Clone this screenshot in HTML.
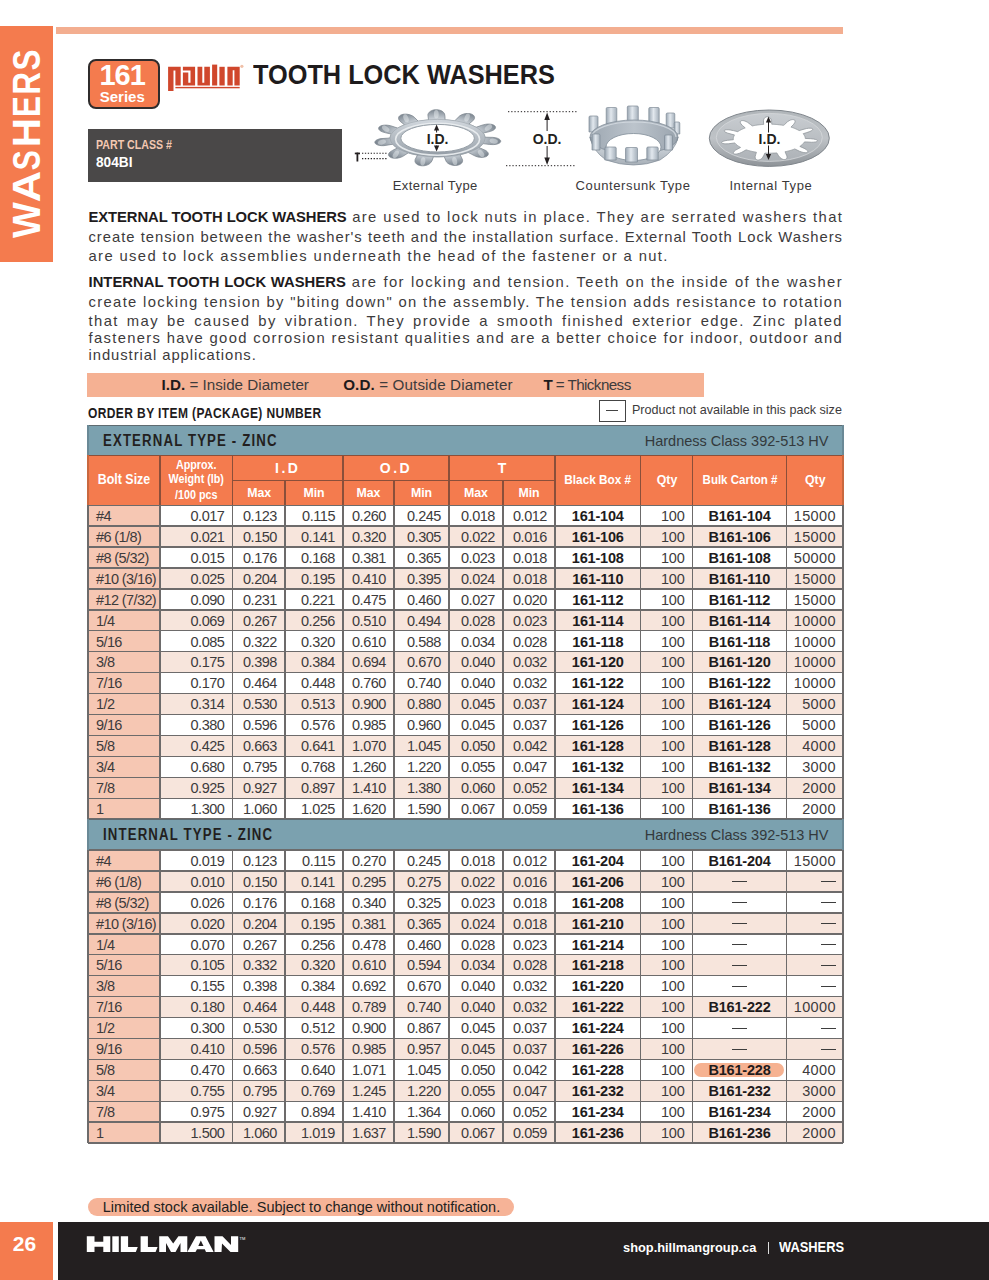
<!DOCTYPE html>
<html><head><meta charset="utf-8"><title>Tooth Lock Washers</title>
<style>
html,body{margin:0;padding:0;background:#fff;}
body{width:989px;height:1280px;position:relative;overflow:hidden;font-family:"Liberation Sans", sans-serif;}
.t{position:absolute;white-space:nowrap;}
</style></head><body>
<div style="position:absolute;left:0;top:26.1px;width:52.5px;height:235.6px;background:#f47b4e"></div>
<svg style="position:absolute;left:0;top:0" width="60" height="270" viewBox="0 0 60 270"><g font-family="Liberation Sans" font-weight="bold" font-size="37.9" fill="#fff"><text x="-17.89" y="0" transform="translate(40.2 220.15) rotate(-90) scale(1.000 1)">W</text><text x="-13.66" y="0" transform="translate(40.2 186.55) rotate(-90) scale(1.144 1)">A</text><text x="-12.45" y="0" transform="translate(40.2 160.50) rotate(-90) scale(0.793 1)">S</text><text x="-13.68" y="0" transform="translate(40.2 132.65) rotate(-90) scale(1.064 1)">H</text><text x="-13.17" y="0" transform="translate(40.2 106.20) rotate(-90) scale(0.828 1)">E</text><text x="-14.56" y="0" transform="translate(40.2 82.65) rotate(-90) scale(0.819 1)">R</text><text x="-12.45" y="0" transform="translate(40.2 60.10) rotate(-90) scale(0.828 1)">S</text></g></svg>
<div style="position:absolute;left:56.4px;top:27.3px;width:787.1px;height:6.4px;background:#f3ae90"></div>
<div style="position:absolute;left:88px;top:58.5px;width:68px;height:46px;border:2px solid #2f2c2c;border-radius:8px;background:#f47b4e"></div>
<div class="t" style="left:85.20px;top:60.85px;font-size:29px;line-height:29px;width:74px;text-align:center;font-weight:bold;color:#fff;letter-spacing:-1px;">161</div>
<div class="t" style="left:86.30px;top:88.90px;font-size:15px;line-height:15px;width:72px;text-align:center;font-weight:bold;color:#fff;">Series</div>
<svg style="position:absolute;left:0;top:0" width="989" height="200" viewBox="0 0 989 200">
<g fill="#d0472c">
<path d="M168.1,66.8 H180.7 V85.5 H175.4 V70.4 H173.5 V91.1 H168.1 Z"/>
<path d="M182.9,66.8 H195.1 V85.5 H182.9 V72.6 H188.3 V82.8 H190.5 V70.4 H182.9 Z"/>
<path d="M197.5,66.8 H202.3 V82.8 H204.3 V66.8 H209.9 V85.5 H197.5 Z"/>
<rect x="212.1" y="64.6" width="5.1" height="20.9"/>
<rect x="219.4" y="66.8" width="5.3" height="18.7"/>
<path d="M227.4,66.8 H239.7 V85.5 H234.4 V70.2 H232.7 V85.5 H227.4 Z"/>
<rect x="175.4" y="86.9" width="64.3" height="1.4"/>
</g>
<circle cx="241.9" cy="66.3" r="1.6" fill="#f0c0a8"/>
</svg>
<div class="t" style="left:253.30px;top:60.60px;font-size:28px;line-height:28px;transform:scaleX(0.904);transform-origin:left center;font-weight:bold;color:#1e1b1c;">TOOTH LOCK WASHERS</div>
<div style="position:absolute;left:88px;top:128.5px;width:254px;height:53px;background:#4a4848"></div>
<div class="t" style="left:95.90px;top:138.56px;font-size:12.8px;line-height:12.8px;transform:scaleX(0.83);transform-origin:left center;font-weight:bold;color:#f4c8b2;">PART CLASS #</div>
<div class="t" style="left:95.90px;top:154.96px;font-size:14.7px;line-height:14.7px;transform:scaleX(0.93);transform-origin:left center;font-weight:bold;color:#fff;">804BI</div>
<svg style="position:absolute;left:0;top:0" width="989" height="200" viewBox="0 0 989 200"><defs><linearGradient id="gring" x1="0" y1="0" x2="0" y2="1"><stop offset="0" stop-color="#d3d9df"/><stop offset="0.35" stop-color="#bcc3ca"/><stop offset="0.7" stop-color="#a9b1b9"/><stop offset="1" stop-color="#8f98a1"/></linearGradient><radialGradient id="gext" cx="0.5" cy="0.5" r="0.5"><stop offset="0.62" stop-color="#d5dbe1"/><stop offset="0.8" stop-color="#abb3bb"/><stop offset="1" stop-color="#7c8690"/></radialGradient></defs>
<path d="M497.24,138.20 L498.41,138.67 L499.28,139.16 L499.91,139.66 L500.35,140.16 L500.61,140.67 L500.70,141.18 L500.63,141.67 L500.39,142.16 L500.00,142.63 L499.44,143.07 L498.70,143.49 L497.77,143.87 L496.60,144.20 L495.13,144.46 L493.14,144.61 L489.74,144.46 L483.02,143.61 L482.78,143.92 L482.51,144.22 L482.24,144.53 L481.95,144.83 L481.64,145.13 L481.32,145.43 L480.99,145.72 L480.65,146.02 L480.29,146.31 L479.92,146.60 L479.54,146.89 L479.14,147.17 L478.74,147.45 L485.84,150.56 L487.23,151.65 L487.92,152.53 L488.24,153.29 L488.32,153.98 L488.21,154.60 L487.92,155.17 L487.49,155.68 L486.93,156.13 L486.24,156.51 L485.42,156.84 L484.48,157.10 L483.43,157.28 L482.25,157.38 L480.93,157.37 L479.45,157.24 L477.75,156.93 L475.64,156.29 L471.74,154.30 L468.13,152.37 L467.49,152.58 L466.84,152.78 L466.19,152.97 L465.52,153.17 L464.84,153.35 L464.16,153.54 L463.47,153.72 L462.77,153.89 L462.06,154.06 L461.35,154.22 L460.63,154.38 L459.90,154.53 L461.57,157.63 L462.60,160.18 L462.52,161.47 L462.14,162.42 L461.57,163.19 L460.87,163.82 L460.07,164.34 L459.19,164.75 L458.23,165.07 L457.22,165.30 L456.16,165.44 L455.05,165.48 L453.90,165.42 L452.72,165.26 L451.52,164.98 L450.29,164.56 L449.03,163.98 L447.74,163.13 L446.37,161.77 L444.21,156.52 L443.39,156.56 L442.57,156.60 L441.74,156.63 L440.91,156.65 L440.09,156.67 L439.26,156.69 L438.43,156.70 L437.60,156.70 L436.77,156.70 L435.94,156.69 L435.11,156.67 L434.29,156.65 L433.46,156.63 L431.89,161.00 L430.57,162.86 L429.33,163.88 L428.12,164.58 L426.91,165.08 L425.71,165.43 L424.54,165.66 L423.38,165.79 L422.26,165.81 L421.17,165.73 L420.11,165.56 L419.11,165.29 L418.17,164.93 L417.30,164.47 L416.51,163.90 L415.83,163.20 L415.29,162.34 L414.98,161.20 L415.19,159.44 L417.53,154.97 L416.78,154.83 L416.04,154.68 L415.30,154.53 L414.57,154.38 L413.85,154.22 L413.14,154.06 L412.43,153.89 L411.73,153.72 L411.04,153.54 L410.36,153.35 L409.68,153.17 L409.01,152.97 L408.36,152.78 L402.55,156.56 L400.19,157.49 L398.39,157.95 L396.84,158.18 L395.46,158.26 L394.22,158.23 L393.09,158.11 L392.09,157.90 L391.19,157.62 L390.41,157.27 L389.76,156.85 L389.23,156.38 L388.83,155.84 L388.59,155.24 L388.53,154.58 L388.69,153.83 L389.14,152.99 L390.10,151.97 L392.57,150.38 L397.32,148.00 L396.88,147.73 L396.46,147.45 L396.06,147.17 L395.66,146.89 L395.28,146.60 L394.91,146.31 L394.55,146.02 L394.21,145.72 L393.88,145.43 L393.56,145.13 L393.25,144.83 L392.96,144.53 L392.69,144.22 L383.82,145.66 L381.49,145.65 L379.82,145.47 L378.51,145.20 L377.45,144.87 L376.60,144.48 L375.93,144.07 L375.43,143.62 L375.08,143.15 L374.90,142.66 L374.87,142.15 L375.01,141.64 L375.33,141.12 L375.83,140.60 L376.55,140.09 L377.54,139.58 L378.92,139.09 L381.00,138.62 L387.84,138.20 L390.11,137.88 L390.13,137.55 L390.17,137.23 L390.22,136.91 L390.28,136.59 L390.36,136.27 L390.45,135.95 L390.56,135.63 L390.68,135.31 L390.82,134.99 L390.97,134.67 L391.14,134.35 L391.32,134.04 L385.66,132.81 L382.31,131.84 L380.77,131.10 L379.81,130.43 L379.19,129.80 L378.81,129.19 L378.64,128.61 L378.65,128.07 L378.82,127.55 L379.15,127.07 L379.63,126.62 L380.25,126.21 L381.02,125.86 L381.94,125.55 L383.03,125.32 L384.30,125.16 L385.82,125.11 L387.68,125.22 L390.30,125.65 L397.76,128.12 L398.22,127.85 L398.69,127.59 L399.17,127.33 L399.66,127.07 L400.17,126.81 L400.69,126.56 L401.21,126.31 L401.75,126.06 L402.30,125.82 L402.86,125.58 L403.43,125.35 L404.01,125.12 L404.60,124.89 L400.09,121.24 L398.90,119.65 L398.55,118.57 L398.57,117.70 L398.81,116.95 L399.22,116.31 L399.77,115.76 L400.44,115.28 L401.22,114.89 L402.09,114.57 L403.06,114.34 L404.11,114.19 L405.24,114.13 L406.45,114.17 L407.74,114.32 L409.12,114.61 L410.62,115.08 L412.31,115.84 L414.48,117.36 L418.28,121.30 L419.04,121.17 L419.81,121.05 L420.58,120.93 L421.35,120.82 L422.14,120.71 L422.92,120.61 L423.71,120.51 L424.51,120.42 L425.31,120.33 L426.11,120.25 L426.91,120.17 L427.72,120.10 L428.54,120.04 L427.88,114.75 L428.47,113.22 L429.27,112.22 L430.17,111.46 L431.13,110.88 L432.15,110.43 L433.21,110.09 L434.29,109.87 L435.39,109.74 L436.49,109.71 L437.60,109.78 L438.70,109.94 L439.79,110.21 L440.85,110.59 L441.88,111.10 L442.86,111.77 L443.77,112.65 L444.56,113.90 L444.98,116.47 L445.03,119.93 L445.85,119.98 L446.66,120.04 L447.48,120.10 L448.29,120.17 L449.09,120.25 L449.89,120.33 L450.69,120.42 L451.49,120.51 L452.28,120.61 L453.06,120.71 L453.85,120.82 L454.62,120.93 L456.96,118.62 L459.79,115.83 L461.53,114.83 L463.05,114.23 L464.45,113.84 L465.77,113.61 L467.01,113.51 L468.18,113.50 L469.28,113.60 L470.30,113.78 L471.24,114.04 L472.09,114.39 L472.84,114.82 L473.49,115.33 L474.01,115.93 L474.38,116.63 L474.56,117.45 L474.46,118.45 L473.82,119.79 L468.76,124.24 L469.38,124.45 L469.99,124.67 L470.60,124.89 L471.19,125.12 L471.77,125.35 L472.34,125.58 L472.90,125.82 L473.45,126.06 L473.99,126.31 L474.51,126.56 L475.03,126.81 L475.54,127.07 L476.03,127.33 L481.92,125.22 L485.23,124.38 L487.29,124.12 L488.93,124.08 L490.31,124.17 L491.49,124.35 L492.51,124.60 L493.38,124.92 L494.10,125.29 L494.67,125.71 L495.10,126.17 L495.39,126.67 L495.51,127.21 L495.47,127.78 L495.23,128.38 L494.77,129.02 L494.02,129.70 L492.82,130.44 L490.63,131.34 L483.26,133.10 L483.48,133.41 L483.69,133.72 L483.88,134.04 L484.06,134.35 L484.23,134.67 L484.38,134.99 L484.52,135.31 L484.64,135.63 L484.75,135.95 L484.84,136.27 L484.92,136.59 L484.98,136.91 L485.03,137.23 L492.93,137.38 L495.61,137.76 Z" fill="url(#gext)" stroke="#7f8891" stroke-width="0.8"/>
<ellipse cx="493.7" cy="141.1" rx="4.2" ry="2.4" transform="rotate(10.9 493.7 141.1)" fill="#eef1f4" opacity="0.45"/>
<ellipse cx="481.1" cy="153.5" rx="4.2" ry="2.4" transform="rotate(52.9 481.1 153.5)" fill="#eef1f4" opacity="0.45"/>
<ellipse cx="454.7" cy="161.1" rx="4.2" ry="2.4" transform="rotate(78.7 454.7 161.1)" fill="#eef1f4" opacity="0.45"/>
<ellipse cx="422.9" cy="161.4" rx="4.2" ry="2.4" transform="rotate(99.5 422.9 161.4)" fill="#eef1f4" opacity="0.45"/>
<ellipse cx="395.8" cy="154.3" rx="4.2" ry="2.4" transform="rotate(124.6 395.8 154.3)" fill="#eef1f4" opacity="0.45"/>
<ellipse cx="381.9" cy="142.2" rx="4.2" ry="2.4" transform="rotate(165.0 381.9 142.2)" fill="#eef1f4" opacity="0.45"/>
<ellipse cx="385.7" cy="128.7" rx="4.2" ry="2.4" transform="rotate(-145.5 385.7 128.7)" fill="#eef1f4" opacity="0.45"/>
<ellipse cx="406.0" cy="118.3" rx="4.2" ry="2.4" transform="rotate(-112.9 406.0 118.3)" fill="#eef1f4" opacity="0.45"/>
<ellipse cx="436.3" cy="114.2" rx="4.2" ry="2.4" transform="rotate(-90.8 436.3 114.2)" fill="#eef1f4" opacity="0.45"/>
<ellipse cx="467.1" cy="117.7" rx="4.2" ry="2.4" transform="rotate(-69.1 467.1 117.7)" fill="#eef1f4" opacity="0.45"/>
<ellipse cx="488.4" cy="127.7" rx="4.2" ry="2.4" transform="rotate(-37.8 488.4 127.7)" fill="#eef1f4" opacity="0.45"/>
<ellipse cx="437.6" cy="138.2" rx="47.5" ry="18.8" fill="url(#gring)" stroke="#9aa2aa" stroke-width="0.6"/>
<ellipse cx="437.6" cy="139.2" rx="42" ry="16" fill="none" stroke="#eceff2" stroke-width="1.6" opacity="0.9"/>
<ellipse cx="437.6" cy="138.2" rx="36.8" ry="13.8" fill="#fff" stroke="#959ea6" stroke-width="1"/>
<rect x="354.8" y="152.6" width="5.2" height="1.7" fill="#231f20"/><rect x="356.5" y="152.6" width="1.8" height="8.9" fill="#231f20"/>
<line x1="362" y1="153.2" x2="388" y2="153.2" stroke="#231f20" stroke-width="1.1" stroke-dasharray="1.3 1.6"/>
<line x1="362" y1="158.6" x2="388" y2="158.6" stroke="#231f20" stroke-width="1.1" stroke-dasharray="1.3 1.6"/>
<text x="437.6" y="143.5" text-anchor="middle" font-family="Liberation Sans" font-weight="bold" font-size="14" fill="#231f20">I.D.</text>
<line x1="436.6" y1="128.5" x2="436.6" y2="132.5" stroke="#231f20" stroke-width="1"/>
<polygon points="436.6,124.5 434.0,130.5 439.20000000000005,130.5" fill="#231f20"/>
<line x1="436.6" y1="145.5" x2="436.6" y2="147.5" stroke="#231f20" stroke-width="1"/>
<polygon points="436.6,151.5 434.0,145.5 439.20000000000005,145.5" fill="#231f20"/>
<line x1="508" y1="111.7" x2="578" y2="111.7" stroke="#231f20" stroke-width="1" stroke-dasharray="1.3 1.9"/>
<line x1="506" y1="165.7" x2="576" y2="165.7" stroke="#231f20" stroke-width="1" stroke-dasharray="1.3 1.9"/>
<line x1="547.1" y1="116" x2="547.1" y2="131" stroke="#231f20" stroke-width="1"/>
<polygon points="547.1,112.5 544.3000000000001,120 549.9,120" fill="#231f20"/>
<line x1="547.1" y1="146" x2="547.1" y2="161" stroke="#231f20" stroke-width="1"/>
<polygon points="547.1,165 544.3000000000001,157.5 549.9,157.5" fill="#231f20"/>
<text x="547.1" y="144" text-anchor="middle" font-family="Liberation Sans" font-weight="bold" font-size="14" fill="#231f20">O.D.</text>
<defs><linearGradient id="gcsk" x1="0" y1="0" x2="0" y2="1"><stop offset="0" stop-color="#a3acb5"/><stop offset="0.5" stop-color="#c3cad1"/><stop offset="1" stop-color="#a8b0b8"/></linearGradient><linearGradient id="gcin" x1="0" y1="0" x2="1" y2="0"><stop offset="0" stop-color="#9ea8b2"/><stop offset="0.5" stop-color="#bcc4cc"/><stop offset="1" stop-color="#9aa4ae"/></linearGradient><linearGradient id="gct" x1="0" y1="0" x2="1" y2="0"><stop offset="0" stop-color="#9aa6b2"/><stop offset="0.45" stop-color="#e2e8ee"/><stop offset="1" stop-color="#a4afba"/></linearGradient></defs>
<path d="M589.0,132.0 L589.0,117.2 Q589.0,116.0 590.2,116.0 L596.8,116.0 Q598.0,116.0 598.0,117.2 L598.0,132.0 Z" fill="url(#gct)" stroke="#7f8b97" stroke-width="0.7"/>
<path d="M606.2,124.0 L606.2,108.7 Q606.2,107.5 607.5,107.5 L615.5,107.5 Q616.8,107.5 616.8,108.7 L616.8,124.0 Z" fill="url(#gct)" stroke="#7f8b97" stroke-width="0.7"/>
<path d="M627.3,121.0 L627.3,107.2 Q627.3,106.0 628.5,106.0 L637.1,106.0 Q638.3,106.0 638.3,107.2 L638.3,121.0 Z" fill="url(#gct)" stroke="#7f8b97" stroke-width="0.7"/>
<path d="M648.8,123.0 L648.8,108.7 Q648.8,107.5 650.0,107.5 L658.0,107.5 Q659.2,107.5 659.2,108.7 L659.2,123.0 Z" fill="url(#gct)" stroke="#7f8b97" stroke-width="0.7"/>
<path d="M666.2,128.0 L666.2,114.2 Q666.2,113.0 667.5,113.0 L673.5,113.0 Q674.8,113.0 674.8,114.2 L674.8,128.0 Z" fill="url(#gct)" stroke="#7f8b97" stroke-width="0.7"/>
<path d="M674.2,134.0 L674.2,123.2 Q674.2,122.0 675.5,122.0 L678.5,122.0 Q679.8,122.0 679.8,123.2 L679.8,134.0 Z" fill="url(#gct)" stroke="#7f8b97" stroke-width="0.7"/>
<ellipse cx="634" cy="137" rx="44" ry="17" fill="url(#gcin)" stroke="#7f8b97" stroke-width="0.7"/>
<path d="M592,137 A42,15 0 0,1 676,137" fill="none" stroke="#d7dde3" stroke-width="1.2" opacity="0.8"/>
<path d="M590,137 A44,17 0 0,0 678,137 Q676,150 660,160 Q634,170 606,160 Q592,150 590,137 Z" fill="url(#gcsk)" stroke="#7f8b97" stroke-width="0.7"/>
<ellipse cx="633.5" cy="147" rx="27.5" ry="13.5" fill="#fff" stroke="#7f8b97" stroke-width="0.8"/>
<path d="M592.0,150.0 L592.0,135.2 Q592.0,134.0 593.2,134.0 L598.8,134.0 Q600.0,134.0 600.0,135.2 L600.0,150.0 Z" fill="url(#gct)" stroke="#7f8b97" stroke-width="0.7"/>
<path d="M604.8,160.0 L604.8,148.2 Q604.8,147.0 606.0,147.0 L615.0,147.0 Q616.2,147.0 616.2,148.2 L616.2,160.0 Z" fill="url(#gct)" stroke="#7f8b97" stroke-width="0.7"/>
<path d="M625.5,162.0 L625.5,148.7 Q625.5,147.5 626.7,147.5 L636.3,147.5 Q637.5,147.5 637.5,148.7 L637.5,162.0 Z" fill="url(#gct)" stroke="#7f8b97" stroke-width="0.7"/>
<path d="M646.8,160.0 L646.8,148.2 Q646.8,147.0 648.0,147.0 L657.0,147.0 Q658.2,147.0 658.2,148.2 L658.2,160.0 Z" fill="url(#gct)" stroke="#7f8b97" stroke-width="0.7"/>
<path d="M664.5,150.0 L664.5,136.2 Q664.5,135.0 665.7,135.0 L671.3,135.0 Q672.5,135.0 672.5,136.2 L672.5,150.0 Z" fill="url(#gct)" stroke="#7f8b97" stroke-width="0.7"/>
<defs><linearGradient id="giw" x1="0" y1="0" x2="0" y2="1"><stop offset="0" stop-color="#b0b5b9"/><stop offset="0.5" stop-color="#bfc3c7"/><stop offset="1" stop-color="#8e9398"/></linearGradient><linearGradient id="giw2" x1="0" y1="0" x2="0" y2="1"><stop offset="0" stop-color="#c9cdd1"/><stop offset="1" stop-color="#adb2b7"/></linearGradient></defs>
<ellipse cx="769.3" cy="138.2" rx="60" ry="28.2" fill="url(#giw)" stroke="#80868c" stroke-width="1"/>
<ellipse cx="769.3" cy="137.39999999999998" rx="53" ry="24" fill="url(#giw2)" stroke="#d5d8db" stroke-width="0.8"/>
<path d="M810.77,138.70 L813.65,139.04 L815.37,139.42 L816.50,139.81 L817.20,140.21 L817.53,140.61 L817.52,141.00 L817.18,141.36 L816.49,141.69 L815.42,141.97 L813.86,142.18 L811.53,142.27 L806.28,141.94 L804.38,141.96 L804.23,142.21 L804.07,142.45 L803.91,142.70 L803.73,142.94 L803.54,143.18 L803.34,143.42 L803.13,143.66 L802.91,143.90 L802.68,144.13 L802.44,144.37 L802.19,144.60 L801.93,144.83 L801.66,145.06 L801.38,145.28 L801.09,145.51 L800.79,145.73 L800.48,145.95 L800.16,146.17 L799.83,146.38 L804.91,148.71 L806.53,149.80 L807.36,150.62 L807.73,151.28 L807.76,151.82 L807.49,152.23 L806.95,152.53 L806.16,152.69 L805.10,152.71 L803.75,152.56 L802.02,152.16 L799.63,151.34 L794.76,148.95 L794.31,149.13 L793.85,149.30 L793.39,149.48 L792.92,149.64 L792.44,149.81 L791.96,149.97 L791.46,150.13 L790.97,150.28 L790.46,150.43 L789.95,150.58 L789.43,150.72 L788.91,150.86 L788.38,151.00 L787.84,151.13 L787.30,151.26 L786.75,151.38 L786.20,151.50 L785.64,151.62 L785.08,151.73 L785.72,153.39 L786.90,155.93 L787.04,157.23 L786.83,158.15 L786.40,158.80 L785.81,159.25 L785.09,159.50 L784.25,159.56 L783.32,159.43 L782.31,159.09 L781.20,158.49 L779.98,157.52 L778.55,155.81 L776.78,152.88 L776.17,152.93 L775.55,152.98 L774.93,153.02 L774.31,153.06 L773.69,153.09 L773.06,153.12 L772.44,153.14 L771.81,153.16 L771.18,153.18 L770.56,153.19 L769.93,153.20 L769.30,153.20 L768.67,153.20 L768.04,153.19 L767.42,153.18 L766.79,153.16 L766.16,153.14 L765.54,153.12 L764.91,153.09 L763.64,155.82 L762.43,157.73 L761.34,158.79 L760.32,159.46 L759.34,159.87 L758.42,160.06 L757.57,160.05 L756.80,159.84 L756.13,159.44 L755.59,158.82 L755.22,157.94 L755.13,156.67 L755.75,154.36 L756.40,152.24 L755.81,152.14 L755.23,152.05 L754.66,151.95 L754.09,151.84 L753.52,151.73 L752.96,151.62 L752.40,151.50 L751.85,151.38 L751.30,151.26 L750.76,151.13 L750.22,151.00 L749.69,150.86 L749.17,150.72 L748.65,150.58 L748.14,150.43 L747.63,150.28 L747.14,150.13 L746.64,149.97 L746.16,149.81 L741.86,152.28 L739.49,153.28 L737.78,153.79 L736.41,154.03 L735.31,154.07 L734.46,153.96 L733.84,153.70 L733.48,153.30 L733.39,152.77 L733.62,152.10 L734.27,151.25 L735.61,150.12 L740.55,147.43 L740.18,147.22 L739.81,147.02 L739.45,146.81 L739.11,146.60 L738.77,146.38 L738.44,146.17 L738.12,145.95 L737.81,145.73 L737.51,145.51 L737.22,145.28 L736.94,145.06 L736.67,144.83 L736.41,144.60 L736.16,144.37 L735.92,144.13 L735.69,143.90 L735.47,143.66 L735.26,143.42 L735.06,143.18 L734.87,142.94 L728.22,143.81 L725.76,143.86 L724.11,143.74 L722.94,143.52 L722.15,143.24 L721.71,142.90 L721.60,142.51 L721.82,142.10 L722.41,141.67 L723.42,141.22 L724.99,140.75 L727.62,140.27 L733.39,139.71 L733.35,139.46 L733.32,139.21 L733.31,138.95 L733.30,138.70 L733.31,138.45 L733.32,138.19 L733.35,137.94 L733.39,137.69 L733.44,137.44 L733.50,137.18 L733.57,136.93 L733.65,136.68 L733.74,136.43 L733.85,136.18 L733.96,135.93 L734.09,135.69 L734.22,135.44 L734.37,135.19 L734.53,134.95 L731.26,134.11 L727.70,133.15 L725.99,132.45 L724.96,131.85 L724.40,131.32 L724.20,130.86 L724.33,130.46 L724.78,130.13 L725.53,129.90 L726.62,129.76 L728.10,129.76 L730.14,129.95 L733.39,130.58 L737.81,131.67 L738.12,131.45 L738.44,131.23 L738.77,131.02 L739.11,130.80 L739.45,130.59 L739.81,130.38 L740.18,130.18 L740.55,129.97 L740.93,129.77 L741.32,129.57 L741.72,129.38 L742.13,129.19 L742.55,129.00 L742.97,128.81 L743.40,128.63 L743.84,128.45 L744.29,128.27 L744.75,128.10 L745.21,127.92 L742.35,125.46 L740.92,123.85 L740.37,122.78 L740.25,121.99 L740.44,121.39 L740.86,120.95 L741.48,120.68 L742.30,120.57 L743.31,120.64 L744.50,120.91 L745.92,121.44 L747.66,122.36 L750.45,124.50 L752.40,125.90 L752.96,125.78 L753.52,125.67 L754.09,125.56 L754.66,125.45 L755.23,125.35 L755.81,125.26 L756.40,125.16 L756.99,125.07 L757.58,124.99 L758.18,124.91 L758.77,124.83 L759.38,124.76 L759.98,124.69 L760.59,124.63 L761.20,124.57 L761.82,124.52 L762.43,124.47 L763.05,124.42 L763.67,124.38 L763.43,120.69 L763.85,119.11 L764.46,118.11 L765.17,117.42 L765.94,116.98 L766.76,116.76 L767.61,116.73 L768.46,116.91 L769.30,117.29 L770.11,117.92 L770.87,118.87 L771.52,120.34 L771.81,124.24 L772.44,124.26 L773.06,124.28 L773.69,124.31 L774.31,124.34 L774.93,124.38 L775.55,124.42 L776.17,124.47 L776.78,124.52 L777.40,124.57 L778.01,124.63 L778.62,124.69 L779.22,124.76 L779.83,124.83 L780.42,124.91 L781.02,124.99 L781.61,125.07 L782.20,125.16 L782.79,125.26 L783.37,125.35 L784.64,124.51 L787.48,121.75 L789.13,120.69 L790.49,120.07 L791.67,119.72 L792.69,119.60 L793.54,119.65 L794.24,119.89 L794.75,120.29 L795.04,120.87 L795.08,121.65 L794.74,122.71 L793.69,124.30 L790.97,127.12 L791.46,127.27 L791.96,127.43 L792.44,127.59 L792.92,127.76 L793.39,127.92 L793.85,128.10 L794.31,128.27 L794.76,128.45 L795.20,128.63 L795.63,128.81 L796.05,129.00 L796.47,129.19 L796.88,129.38 L797.28,129.57 L797.67,129.77 L798.05,129.97 L798.42,130.18 L798.79,130.38 L799.15,130.59 L802.98,129.44 L806.38,128.56 L808.46,128.24 L810.00,128.15 L811.15,128.22 L811.98,128.42 L812.51,128.71 L812.75,129.10 L812.67,129.57 L812.23,130.12 L811.36,130.76 L809.85,131.53 L806.82,132.60 L803.13,133.74 L803.34,133.98 L803.54,134.22 L803.73,134.46 L803.91,134.70 L804.07,134.95 L804.23,135.19 L804.38,135.44 L804.51,135.69 L804.64,135.93 L804.75,136.18 L804.86,136.43 L804.95,136.68 L805.03,136.93 L805.10,137.18 L805.16,137.44 L805.21,137.69 L805.25,137.94 L805.28,138.19 L805.29,138.45 Z" fill="#fff" stroke="#8f959b" stroke-width="0.8"/>
<text x="769.5" y="143.5" text-anchor="middle" font-family="Liberation Sans" font-weight="bold" font-size="14" fill="#231f20">I.D.</text>
<line x1="768.5" y1="120.5" x2="768.5" y2="132.5" stroke="#231f20" stroke-width="1"/>
<polygon points="768.5,116.5 765.9,122.5 771.1,122.5" fill="#231f20"/>
<line x1="768.5" y1="145.5" x2="768.5" y2="156" stroke="#231f20" stroke-width="1"/>
<polygon points="768.5,160 765.9,154 771.1,154" fill="#231f20"/></svg>
<div class="t" style="left:392.70px;top:179.00px;font-size:13px;line-height:13px;color:#3a3839;letter-spacing:0.45px;">External Type</div>
<div class="t" style="left:575.60px;top:179.00px;font-size:13px;line-height:13px;color:#3a3839;letter-spacing:0.6px;">Countersunk Type</div>
<div class="t" style="left:729.40px;top:179.00px;font-size:13px;line-height:13px;color:#3a3839;letter-spacing:0.62px;">Internal Type</div>
<div class="t" style="left:88.50px;top:210.27px;font-size:14.8px;line-height:14.8px;width:754.5px;text-align:left;color:#3d3b3c;text-align:justify;text-align-last:justify;white-space:nowrap;"><b style="color:#1e1b1c;letter-spacing:-0.071px">EXTERNAL TOOTH LOCK WASHERS</b><span style="letter-spacing:1.400px"> are used to lock nuts in place. They are serrated washers that</span></div>
<div class="t" style="left:88.50px;top:229.67px;font-size:14.8px;line-height:14.8px;width:754.5px;text-align:left;color:#3d3b3c;text-align:justify;text-align-last:justify;white-space:nowrap;"><span style="letter-spacing:0.976px">create tension between the washer&#39;s teeth and the installation surface. External Tooth Lock Washers</span></div>
<div class="t" style="left:88.50px;top:249.17px;font-size:14.8px;line-height:14.8px;color:#3d3b3c;white-space:nowrap;"><span style="letter-spacing:1.369px">are used to lock assemblies underneath the head of the fastener or a nut.</span></div>
<div class="t" style="left:88.50px;top:275.37px;font-size:14.8px;line-height:14.8px;width:754.5px;text-align:left;color:#3d3b3c;text-align:justify;text-align-last:justify;white-space:nowrap;"><b style="color:#1e1b1c;letter-spacing:0.023px">INTERNAL TOOTH LOCK WASHERS</b><span style="letter-spacing:1.400px"> are for locking and tension. Teeth on the inside of the washer</span></div>
<div class="t" style="left:88.50px;top:294.57px;font-size:14.8px;line-height:14.8px;width:754.5px;text-align:left;color:#3d3b3c;text-align:justify;text-align-last:justify;white-space:nowrap;"><span style="letter-spacing:1.337px">create locking tension by &quot;biting down&quot; on the assembly. The tension adds resistance to rotation</span></div>
<div class="t" style="left:88.50px;top:314.07px;font-size:14.8px;line-height:14.8px;width:754.5px;text-align:left;color:#3d3b3c;text-align:justify;text-align-last:justify;white-space:nowrap;"><span style="letter-spacing:1.400px">that may be caused by vibration. They provide a smooth finished exterior edge. Zinc plated</span></div>
<div class="t" style="left:88.50px;top:330.97px;font-size:14.8px;line-height:14.8px;width:754.5px;text-align:left;color:#3d3b3c;text-align:justify;text-align-last:justify;white-space:nowrap;"><span style="letter-spacing:1.324px">fasteners have good corrosion resistant qualities and are a better choice for indoor, outdoor and</span></div>
<div class="t" style="left:88.50px;top:348.47px;font-size:14.8px;line-height:14.8px;color:#3d3b3c;white-space:nowrap;"><span style="letter-spacing:0.945px">industrial applications.</span></div>
<div style="position:absolute;left:87.3px;top:373px;width:617px;height:23.7px;background:#f5b193"></div>
<div class="t" style="left:161.60px;top:377.43px;font-size:15.2px;line-height:15.2px;color:#3d3b3c;white-space:nowrap;"><b style="color:#1e1b1c">I.D.</b> = Inside Diameter</div>
<div class="t" style="left:343.20px;top:377.43px;font-size:15.2px;line-height:15.2px;color:#3d3b3c;white-space:nowrap;letter-spacing:0.12px;"><b style="color:#1e1b1c">O.D.</b> = Outside Diameter</div>
<div class="t" style="left:543.50px;top:377.43px;font-size:15.2px;line-height:15.2px;color:#3d3b3c;white-space:nowrap;letter-spacing:-0.58px;"><b style="color:#1e1b1c">T</b> = Thickness</div>
<div class="t" style="left:88.00px;top:405.20px;font-size:15px;line-height:15px;transform:scaleX(0.8);transform-origin:left center;font-weight:bold;color:#1e1b1c;letter-spacing:0.5px;">ORDER BY ITEM (PACKAGE) NUMBER</div>
<div style="position:absolute;left:599px;top:399.6px;width:24.5px;height:20.3px;border:1px solid #444"></div>
<div style="position:absolute;left:606px;top:410px;width:12px;height:1.2px;background:#444"></div>
<div class="t" style="left:631.90px;top:404.43px;font-size:12.6px;line-height:12.6px;color:#3d3b3c;">Product not available in this pack size</div>
<div style="position:absolute;left:88.00px;top:425.30px;width:755.00px;height:30.00px;background:#7ba1af"></div>
<div class="t" style="left:102.6px;top:432.07px;font-size:17.4px;line-height:17.4px;font-weight:bold;color:#231f20;letter-spacing:1.5px;transform:scaleX(0.76);transform-origin:left center">EXTERNAL TYPE - ZINC</div>
<div class="t" style="left:600px;width:228.5px;text-align:right;top:433.93px;font-size:14.5px;line-height:14.5px;color:#33393c;letter-spacing:0.0px">Hardness Class 392-513 HV</div>
<div style="position:absolute;left:160.00px;top:505.20px;width:683.00px;height:20.93px;background:#ffffff"></div>
<div style="position:absolute;left:88.00px;top:505.20px;width:72.00px;height:20.93px;background:#f6c7b3"></div>
<div class="t" style="left:96px;top:508.93px;font-size:14.5px;line-height:14.5px;color:#3d3b3c;letter-spacing:-0.6px">#4</div>
<div class="t" style="left:160px;width:64.50px;text-align:right;top:508.93px;font-size:14.5px;line-height:14.5px;color:#3d3b3c;letter-spacing:-0.45px">0.017</div>
<div class="t" style="left:232.5px;width:44.50px;text-align:right;top:508.93px;font-size:14.5px;line-height:14.5px;color:#3d3b3c;letter-spacing:-0.45px">0.123</div>
<div class="t" style="left:285px;width:50.00px;text-align:right;top:508.93px;font-size:14.5px;line-height:14.5px;color:#3d3b3c;letter-spacing:-0.45px">0.115</div>
<div class="t" style="left:343px;width:43.00px;text-align:right;top:508.93px;font-size:14.5px;line-height:14.5px;color:#3d3b3c;letter-spacing:-0.45px">0.260</div>
<div class="t" style="left:394px;width:47.00px;text-align:right;top:508.93px;font-size:14.5px;line-height:14.5px;color:#3d3b3c;letter-spacing:-0.45px">0.245</div>
<div class="t" style="left:449px;width:46.00px;text-align:right;top:508.93px;font-size:14.5px;line-height:14.5px;color:#3d3b3c;letter-spacing:-0.45px">0.018</div>
<div class="t" style="left:503px;width:44.00px;text-align:right;top:508.93px;font-size:14.5px;line-height:14.5px;color:#3d3b3c;letter-spacing:-0.45px">0.012</div>
<div class="t" style="left:555px;width:85.5px;text-align:center;top:508.93px;font-size:14.5px;line-height:14.5px;font-weight:bold;color:#1e1b1c;letter-spacing:-0.2px">161-104</div>
<div class="t" style="left:640.5px;width:44.00px;text-align:right;top:508.93px;font-size:14.5px;line-height:14.5px;color:#3d3b3c;letter-spacing:-0.2px">100</div>
<div class="t" style="left:692.5px;width:94.0px;text-align:center;top:508.93px;font-size:14.5px;line-height:14.5px;font-weight:bold;color:#1e1b1c;letter-spacing:-0.2px">B161-104</div>
<div class="t" style="left:786.5px;width:49.35px;text-align:right;top:508.93px;font-size:14.5px;line-height:14.5px;color:#3d3b3c;letter-spacing:0.35px">15000</div>
<div style="position:absolute;left:160.00px;top:526.13px;width:683.00px;height:20.93px;background:#f7e5dc"></div>
<div style="position:absolute;left:88.00px;top:526.13px;width:72.00px;height:20.93px;background:#f6c7b3"></div>
<div class="t" style="left:96px;top:529.86px;font-size:14.5px;line-height:14.5px;color:#3d3b3c;letter-spacing:-0.6px">#6 (1/8)</div>
<div class="t" style="left:160px;width:64.50px;text-align:right;top:529.86px;font-size:14.5px;line-height:14.5px;color:#3d3b3c;letter-spacing:-0.45px">0.021</div>
<div class="t" style="left:232.5px;width:44.50px;text-align:right;top:529.86px;font-size:14.5px;line-height:14.5px;color:#3d3b3c;letter-spacing:-0.45px">0.150</div>
<div class="t" style="left:285px;width:50.00px;text-align:right;top:529.86px;font-size:14.5px;line-height:14.5px;color:#3d3b3c;letter-spacing:-0.45px">0.141</div>
<div class="t" style="left:343px;width:43.00px;text-align:right;top:529.86px;font-size:14.5px;line-height:14.5px;color:#3d3b3c;letter-spacing:-0.45px">0.320</div>
<div class="t" style="left:394px;width:47.00px;text-align:right;top:529.86px;font-size:14.5px;line-height:14.5px;color:#3d3b3c;letter-spacing:-0.45px">0.305</div>
<div class="t" style="left:449px;width:46.00px;text-align:right;top:529.86px;font-size:14.5px;line-height:14.5px;color:#3d3b3c;letter-spacing:-0.45px">0.022</div>
<div class="t" style="left:503px;width:44.00px;text-align:right;top:529.86px;font-size:14.5px;line-height:14.5px;color:#3d3b3c;letter-spacing:-0.45px">0.016</div>
<div class="t" style="left:555px;width:85.5px;text-align:center;top:529.86px;font-size:14.5px;line-height:14.5px;font-weight:bold;color:#1e1b1c;letter-spacing:-0.2px">161-106</div>
<div class="t" style="left:640.5px;width:44.00px;text-align:right;top:529.86px;font-size:14.5px;line-height:14.5px;color:#3d3b3c;letter-spacing:-0.2px">100</div>
<div class="t" style="left:692.5px;width:94.0px;text-align:center;top:529.86px;font-size:14.5px;line-height:14.5px;font-weight:bold;color:#1e1b1c;letter-spacing:-0.2px">B161-106</div>
<div class="t" style="left:786.5px;width:49.35px;text-align:right;top:529.86px;font-size:14.5px;line-height:14.5px;color:#3d3b3c;letter-spacing:0.35px">15000</div>
<div style="position:absolute;left:160.00px;top:547.06px;width:683.00px;height:20.93px;background:#ffffff"></div>
<div style="position:absolute;left:88.00px;top:547.06px;width:72.00px;height:20.93px;background:#f6c7b3"></div>
<div class="t" style="left:96px;top:550.79px;font-size:14.5px;line-height:14.5px;color:#3d3b3c;letter-spacing:-0.6px">#8 (5/32)</div>
<div class="t" style="left:160px;width:64.50px;text-align:right;top:550.79px;font-size:14.5px;line-height:14.5px;color:#3d3b3c;letter-spacing:-0.45px">0.015</div>
<div class="t" style="left:232.5px;width:44.50px;text-align:right;top:550.79px;font-size:14.5px;line-height:14.5px;color:#3d3b3c;letter-spacing:-0.45px">0.176</div>
<div class="t" style="left:285px;width:50.00px;text-align:right;top:550.79px;font-size:14.5px;line-height:14.5px;color:#3d3b3c;letter-spacing:-0.45px">0.168</div>
<div class="t" style="left:343px;width:43.00px;text-align:right;top:550.79px;font-size:14.5px;line-height:14.5px;color:#3d3b3c;letter-spacing:-0.45px">0.381</div>
<div class="t" style="left:394px;width:47.00px;text-align:right;top:550.79px;font-size:14.5px;line-height:14.5px;color:#3d3b3c;letter-spacing:-0.45px">0.365</div>
<div class="t" style="left:449px;width:46.00px;text-align:right;top:550.79px;font-size:14.5px;line-height:14.5px;color:#3d3b3c;letter-spacing:-0.45px">0.023</div>
<div class="t" style="left:503px;width:44.00px;text-align:right;top:550.79px;font-size:14.5px;line-height:14.5px;color:#3d3b3c;letter-spacing:-0.45px">0.018</div>
<div class="t" style="left:555px;width:85.5px;text-align:center;top:550.79px;font-size:14.5px;line-height:14.5px;font-weight:bold;color:#1e1b1c;letter-spacing:-0.2px">161-108</div>
<div class="t" style="left:640.5px;width:44.00px;text-align:right;top:550.79px;font-size:14.5px;line-height:14.5px;color:#3d3b3c;letter-spacing:-0.2px">100</div>
<div class="t" style="left:692.5px;width:94.0px;text-align:center;top:550.79px;font-size:14.5px;line-height:14.5px;font-weight:bold;color:#1e1b1c;letter-spacing:-0.2px">B161-108</div>
<div class="t" style="left:786.5px;width:49.35px;text-align:right;top:550.79px;font-size:14.5px;line-height:14.5px;color:#3d3b3c;letter-spacing:0.35px">50000</div>
<div style="position:absolute;left:160.00px;top:567.99px;width:683.00px;height:20.93px;background:#f7e5dc"></div>
<div style="position:absolute;left:88.00px;top:567.99px;width:72.00px;height:20.93px;background:#f6c7b3"></div>
<div class="t" style="left:96px;top:571.72px;font-size:14.5px;line-height:14.5px;color:#3d3b3c;letter-spacing:-0.6px">#10 (3/16)</div>
<div class="t" style="left:160px;width:64.50px;text-align:right;top:571.72px;font-size:14.5px;line-height:14.5px;color:#3d3b3c;letter-spacing:-0.45px">0.025</div>
<div class="t" style="left:232.5px;width:44.50px;text-align:right;top:571.72px;font-size:14.5px;line-height:14.5px;color:#3d3b3c;letter-spacing:-0.45px">0.204</div>
<div class="t" style="left:285px;width:50.00px;text-align:right;top:571.72px;font-size:14.5px;line-height:14.5px;color:#3d3b3c;letter-spacing:-0.45px">0.195</div>
<div class="t" style="left:343px;width:43.00px;text-align:right;top:571.72px;font-size:14.5px;line-height:14.5px;color:#3d3b3c;letter-spacing:-0.45px">0.410</div>
<div class="t" style="left:394px;width:47.00px;text-align:right;top:571.72px;font-size:14.5px;line-height:14.5px;color:#3d3b3c;letter-spacing:-0.45px">0.395</div>
<div class="t" style="left:449px;width:46.00px;text-align:right;top:571.72px;font-size:14.5px;line-height:14.5px;color:#3d3b3c;letter-spacing:-0.45px">0.024</div>
<div class="t" style="left:503px;width:44.00px;text-align:right;top:571.72px;font-size:14.5px;line-height:14.5px;color:#3d3b3c;letter-spacing:-0.45px">0.018</div>
<div class="t" style="left:555px;width:85.5px;text-align:center;top:571.72px;font-size:14.5px;line-height:14.5px;font-weight:bold;color:#1e1b1c;letter-spacing:-0.2px">161-110</div>
<div class="t" style="left:640.5px;width:44.00px;text-align:right;top:571.72px;font-size:14.5px;line-height:14.5px;color:#3d3b3c;letter-spacing:-0.2px">100</div>
<div class="t" style="left:692.5px;width:94.0px;text-align:center;top:571.72px;font-size:14.5px;line-height:14.5px;font-weight:bold;color:#1e1b1c;letter-spacing:-0.2px">B161-110</div>
<div class="t" style="left:786.5px;width:49.35px;text-align:right;top:571.72px;font-size:14.5px;line-height:14.5px;color:#3d3b3c;letter-spacing:0.35px">15000</div>
<div style="position:absolute;left:160.00px;top:588.92px;width:683.00px;height:20.93px;background:#ffffff"></div>
<div style="position:absolute;left:88.00px;top:588.92px;width:72.00px;height:20.93px;background:#f6c7b3"></div>
<div class="t" style="left:96px;top:592.65px;font-size:14.5px;line-height:14.5px;color:#3d3b3c;letter-spacing:-0.6px">#12 (7/32)</div>
<div class="t" style="left:160px;width:64.50px;text-align:right;top:592.65px;font-size:14.5px;line-height:14.5px;color:#3d3b3c;letter-spacing:-0.45px">0.090</div>
<div class="t" style="left:232.5px;width:44.50px;text-align:right;top:592.65px;font-size:14.5px;line-height:14.5px;color:#3d3b3c;letter-spacing:-0.45px">0.231</div>
<div class="t" style="left:285px;width:50.00px;text-align:right;top:592.65px;font-size:14.5px;line-height:14.5px;color:#3d3b3c;letter-spacing:-0.45px">0.221</div>
<div class="t" style="left:343px;width:43.00px;text-align:right;top:592.65px;font-size:14.5px;line-height:14.5px;color:#3d3b3c;letter-spacing:-0.45px">0.475</div>
<div class="t" style="left:394px;width:47.00px;text-align:right;top:592.65px;font-size:14.5px;line-height:14.5px;color:#3d3b3c;letter-spacing:-0.45px">0.460</div>
<div class="t" style="left:449px;width:46.00px;text-align:right;top:592.65px;font-size:14.5px;line-height:14.5px;color:#3d3b3c;letter-spacing:-0.45px">0.027</div>
<div class="t" style="left:503px;width:44.00px;text-align:right;top:592.65px;font-size:14.5px;line-height:14.5px;color:#3d3b3c;letter-spacing:-0.45px">0.020</div>
<div class="t" style="left:555px;width:85.5px;text-align:center;top:592.65px;font-size:14.5px;line-height:14.5px;font-weight:bold;color:#1e1b1c;letter-spacing:-0.2px">161-112</div>
<div class="t" style="left:640.5px;width:44.00px;text-align:right;top:592.65px;font-size:14.5px;line-height:14.5px;color:#3d3b3c;letter-spacing:-0.2px">100</div>
<div class="t" style="left:692.5px;width:94.0px;text-align:center;top:592.65px;font-size:14.5px;line-height:14.5px;font-weight:bold;color:#1e1b1c;letter-spacing:-0.2px">B161-112</div>
<div class="t" style="left:786.5px;width:49.35px;text-align:right;top:592.65px;font-size:14.5px;line-height:14.5px;color:#3d3b3c;letter-spacing:0.35px">15000</div>
<div style="position:absolute;left:160.00px;top:609.85px;width:683.00px;height:20.93px;background:#f7e5dc"></div>
<div style="position:absolute;left:88.00px;top:609.85px;width:72.00px;height:20.93px;background:#f6c7b3"></div>
<div class="t" style="left:96px;top:613.58px;font-size:14.5px;line-height:14.5px;color:#3d3b3c;letter-spacing:-0.6px">1/4</div>
<div class="t" style="left:160px;width:64.50px;text-align:right;top:613.58px;font-size:14.5px;line-height:14.5px;color:#3d3b3c;letter-spacing:-0.45px">0.069</div>
<div class="t" style="left:232.5px;width:44.50px;text-align:right;top:613.58px;font-size:14.5px;line-height:14.5px;color:#3d3b3c;letter-spacing:-0.45px">0.267</div>
<div class="t" style="left:285px;width:50.00px;text-align:right;top:613.58px;font-size:14.5px;line-height:14.5px;color:#3d3b3c;letter-spacing:-0.45px">0.256</div>
<div class="t" style="left:343px;width:43.00px;text-align:right;top:613.58px;font-size:14.5px;line-height:14.5px;color:#3d3b3c;letter-spacing:-0.45px">0.510</div>
<div class="t" style="left:394px;width:47.00px;text-align:right;top:613.58px;font-size:14.5px;line-height:14.5px;color:#3d3b3c;letter-spacing:-0.45px">0.494</div>
<div class="t" style="left:449px;width:46.00px;text-align:right;top:613.58px;font-size:14.5px;line-height:14.5px;color:#3d3b3c;letter-spacing:-0.45px">0.028</div>
<div class="t" style="left:503px;width:44.00px;text-align:right;top:613.58px;font-size:14.5px;line-height:14.5px;color:#3d3b3c;letter-spacing:-0.45px">0.023</div>
<div class="t" style="left:555px;width:85.5px;text-align:center;top:613.58px;font-size:14.5px;line-height:14.5px;font-weight:bold;color:#1e1b1c;letter-spacing:-0.2px">161-114</div>
<div class="t" style="left:640.5px;width:44.00px;text-align:right;top:613.58px;font-size:14.5px;line-height:14.5px;color:#3d3b3c;letter-spacing:-0.2px">100</div>
<div class="t" style="left:692.5px;width:94.0px;text-align:center;top:613.58px;font-size:14.5px;line-height:14.5px;font-weight:bold;color:#1e1b1c;letter-spacing:-0.2px">B161-114</div>
<div class="t" style="left:786.5px;width:49.35px;text-align:right;top:613.58px;font-size:14.5px;line-height:14.5px;color:#3d3b3c;letter-spacing:0.35px">10000</div>
<div style="position:absolute;left:160.00px;top:630.78px;width:683.00px;height:20.93px;background:#ffffff"></div>
<div style="position:absolute;left:88.00px;top:630.78px;width:72.00px;height:20.93px;background:#f6c7b3"></div>
<div class="t" style="left:96px;top:634.51px;font-size:14.5px;line-height:14.5px;color:#3d3b3c;letter-spacing:-0.6px">5/16</div>
<div class="t" style="left:160px;width:64.50px;text-align:right;top:634.51px;font-size:14.5px;line-height:14.5px;color:#3d3b3c;letter-spacing:-0.45px">0.085</div>
<div class="t" style="left:232.5px;width:44.50px;text-align:right;top:634.51px;font-size:14.5px;line-height:14.5px;color:#3d3b3c;letter-spacing:-0.45px">0.322</div>
<div class="t" style="left:285px;width:50.00px;text-align:right;top:634.51px;font-size:14.5px;line-height:14.5px;color:#3d3b3c;letter-spacing:-0.45px">0.320</div>
<div class="t" style="left:343px;width:43.00px;text-align:right;top:634.51px;font-size:14.5px;line-height:14.5px;color:#3d3b3c;letter-spacing:-0.45px">0.610</div>
<div class="t" style="left:394px;width:47.00px;text-align:right;top:634.51px;font-size:14.5px;line-height:14.5px;color:#3d3b3c;letter-spacing:-0.45px">0.588</div>
<div class="t" style="left:449px;width:46.00px;text-align:right;top:634.51px;font-size:14.5px;line-height:14.5px;color:#3d3b3c;letter-spacing:-0.45px">0.034</div>
<div class="t" style="left:503px;width:44.00px;text-align:right;top:634.51px;font-size:14.5px;line-height:14.5px;color:#3d3b3c;letter-spacing:-0.45px">0.028</div>
<div class="t" style="left:555px;width:85.5px;text-align:center;top:634.51px;font-size:14.5px;line-height:14.5px;font-weight:bold;color:#1e1b1c;letter-spacing:-0.2px">161-118</div>
<div class="t" style="left:640.5px;width:44.00px;text-align:right;top:634.51px;font-size:14.5px;line-height:14.5px;color:#3d3b3c;letter-spacing:-0.2px">100</div>
<div class="t" style="left:692.5px;width:94.0px;text-align:center;top:634.51px;font-size:14.5px;line-height:14.5px;font-weight:bold;color:#1e1b1c;letter-spacing:-0.2px">B161-118</div>
<div class="t" style="left:786.5px;width:49.35px;text-align:right;top:634.51px;font-size:14.5px;line-height:14.5px;color:#3d3b3c;letter-spacing:0.35px">10000</div>
<div style="position:absolute;left:160.00px;top:651.71px;width:683.00px;height:20.93px;background:#f7e5dc"></div>
<div style="position:absolute;left:88.00px;top:651.71px;width:72.00px;height:20.93px;background:#f6c7b3"></div>
<div class="t" style="left:96px;top:655.44px;font-size:14.5px;line-height:14.5px;color:#3d3b3c;letter-spacing:-0.6px">3/8</div>
<div class="t" style="left:160px;width:64.50px;text-align:right;top:655.44px;font-size:14.5px;line-height:14.5px;color:#3d3b3c;letter-spacing:-0.45px">0.175</div>
<div class="t" style="left:232.5px;width:44.50px;text-align:right;top:655.44px;font-size:14.5px;line-height:14.5px;color:#3d3b3c;letter-spacing:-0.45px">0.398</div>
<div class="t" style="left:285px;width:50.00px;text-align:right;top:655.44px;font-size:14.5px;line-height:14.5px;color:#3d3b3c;letter-spacing:-0.45px">0.384</div>
<div class="t" style="left:343px;width:43.00px;text-align:right;top:655.44px;font-size:14.5px;line-height:14.5px;color:#3d3b3c;letter-spacing:-0.45px">0.694</div>
<div class="t" style="left:394px;width:47.00px;text-align:right;top:655.44px;font-size:14.5px;line-height:14.5px;color:#3d3b3c;letter-spacing:-0.45px">0.670</div>
<div class="t" style="left:449px;width:46.00px;text-align:right;top:655.44px;font-size:14.5px;line-height:14.5px;color:#3d3b3c;letter-spacing:-0.45px">0.040</div>
<div class="t" style="left:503px;width:44.00px;text-align:right;top:655.44px;font-size:14.5px;line-height:14.5px;color:#3d3b3c;letter-spacing:-0.45px">0.032</div>
<div class="t" style="left:555px;width:85.5px;text-align:center;top:655.44px;font-size:14.5px;line-height:14.5px;font-weight:bold;color:#1e1b1c;letter-spacing:-0.2px">161-120</div>
<div class="t" style="left:640.5px;width:44.00px;text-align:right;top:655.44px;font-size:14.5px;line-height:14.5px;color:#3d3b3c;letter-spacing:-0.2px">100</div>
<div class="t" style="left:692.5px;width:94.0px;text-align:center;top:655.44px;font-size:14.5px;line-height:14.5px;font-weight:bold;color:#1e1b1c;letter-spacing:-0.2px">B161-120</div>
<div class="t" style="left:786.5px;width:49.35px;text-align:right;top:655.44px;font-size:14.5px;line-height:14.5px;color:#3d3b3c;letter-spacing:0.35px">10000</div>
<div style="position:absolute;left:160.00px;top:672.64px;width:683.00px;height:20.93px;background:#ffffff"></div>
<div style="position:absolute;left:88.00px;top:672.64px;width:72.00px;height:20.93px;background:#f6c7b3"></div>
<div class="t" style="left:96px;top:676.37px;font-size:14.5px;line-height:14.5px;color:#3d3b3c;letter-spacing:-0.6px">7/16</div>
<div class="t" style="left:160px;width:64.50px;text-align:right;top:676.37px;font-size:14.5px;line-height:14.5px;color:#3d3b3c;letter-spacing:-0.45px">0.170</div>
<div class="t" style="left:232.5px;width:44.50px;text-align:right;top:676.37px;font-size:14.5px;line-height:14.5px;color:#3d3b3c;letter-spacing:-0.45px">0.464</div>
<div class="t" style="left:285px;width:50.00px;text-align:right;top:676.37px;font-size:14.5px;line-height:14.5px;color:#3d3b3c;letter-spacing:-0.45px">0.448</div>
<div class="t" style="left:343px;width:43.00px;text-align:right;top:676.37px;font-size:14.5px;line-height:14.5px;color:#3d3b3c;letter-spacing:-0.45px">0.760</div>
<div class="t" style="left:394px;width:47.00px;text-align:right;top:676.37px;font-size:14.5px;line-height:14.5px;color:#3d3b3c;letter-spacing:-0.45px">0.740</div>
<div class="t" style="left:449px;width:46.00px;text-align:right;top:676.37px;font-size:14.5px;line-height:14.5px;color:#3d3b3c;letter-spacing:-0.45px">0.040</div>
<div class="t" style="left:503px;width:44.00px;text-align:right;top:676.37px;font-size:14.5px;line-height:14.5px;color:#3d3b3c;letter-spacing:-0.45px">0.032</div>
<div class="t" style="left:555px;width:85.5px;text-align:center;top:676.37px;font-size:14.5px;line-height:14.5px;font-weight:bold;color:#1e1b1c;letter-spacing:-0.2px">161-122</div>
<div class="t" style="left:640.5px;width:44.00px;text-align:right;top:676.37px;font-size:14.5px;line-height:14.5px;color:#3d3b3c;letter-spacing:-0.2px">100</div>
<div class="t" style="left:692.5px;width:94.0px;text-align:center;top:676.37px;font-size:14.5px;line-height:14.5px;font-weight:bold;color:#1e1b1c;letter-spacing:-0.2px">B161-122</div>
<div class="t" style="left:786.5px;width:49.35px;text-align:right;top:676.37px;font-size:14.5px;line-height:14.5px;color:#3d3b3c;letter-spacing:0.35px">10000</div>
<div style="position:absolute;left:160.00px;top:693.57px;width:683.00px;height:20.93px;background:#f7e5dc"></div>
<div style="position:absolute;left:88.00px;top:693.57px;width:72.00px;height:20.93px;background:#f6c7b3"></div>
<div class="t" style="left:96px;top:697.30px;font-size:14.5px;line-height:14.5px;color:#3d3b3c;letter-spacing:-0.6px">1/2</div>
<div class="t" style="left:160px;width:64.50px;text-align:right;top:697.30px;font-size:14.5px;line-height:14.5px;color:#3d3b3c;letter-spacing:-0.45px">0.314</div>
<div class="t" style="left:232.5px;width:44.50px;text-align:right;top:697.30px;font-size:14.5px;line-height:14.5px;color:#3d3b3c;letter-spacing:-0.45px">0.530</div>
<div class="t" style="left:285px;width:50.00px;text-align:right;top:697.30px;font-size:14.5px;line-height:14.5px;color:#3d3b3c;letter-spacing:-0.45px">0.513</div>
<div class="t" style="left:343px;width:43.00px;text-align:right;top:697.30px;font-size:14.5px;line-height:14.5px;color:#3d3b3c;letter-spacing:-0.45px">0.900</div>
<div class="t" style="left:394px;width:47.00px;text-align:right;top:697.30px;font-size:14.5px;line-height:14.5px;color:#3d3b3c;letter-spacing:-0.45px">0.880</div>
<div class="t" style="left:449px;width:46.00px;text-align:right;top:697.30px;font-size:14.5px;line-height:14.5px;color:#3d3b3c;letter-spacing:-0.45px">0.045</div>
<div class="t" style="left:503px;width:44.00px;text-align:right;top:697.30px;font-size:14.5px;line-height:14.5px;color:#3d3b3c;letter-spacing:-0.45px">0.037</div>
<div class="t" style="left:555px;width:85.5px;text-align:center;top:697.30px;font-size:14.5px;line-height:14.5px;font-weight:bold;color:#1e1b1c;letter-spacing:-0.2px">161-124</div>
<div class="t" style="left:640.5px;width:44.00px;text-align:right;top:697.30px;font-size:14.5px;line-height:14.5px;color:#3d3b3c;letter-spacing:-0.2px">100</div>
<div class="t" style="left:692.5px;width:94.0px;text-align:center;top:697.30px;font-size:14.5px;line-height:14.5px;font-weight:bold;color:#1e1b1c;letter-spacing:-0.2px">B161-124</div>
<div class="t" style="left:786.5px;width:49.35px;text-align:right;top:697.30px;font-size:14.5px;line-height:14.5px;color:#3d3b3c;letter-spacing:0.35px">5000</div>
<div style="position:absolute;left:160.00px;top:714.50px;width:683.00px;height:20.93px;background:#ffffff"></div>
<div style="position:absolute;left:88.00px;top:714.50px;width:72.00px;height:20.93px;background:#f6c7b3"></div>
<div class="t" style="left:96px;top:718.23px;font-size:14.5px;line-height:14.5px;color:#3d3b3c;letter-spacing:-0.6px">9/16</div>
<div class="t" style="left:160px;width:64.50px;text-align:right;top:718.23px;font-size:14.5px;line-height:14.5px;color:#3d3b3c;letter-spacing:-0.45px">0.380</div>
<div class="t" style="left:232.5px;width:44.50px;text-align:right;top:718.23px;font-size:14.5px;line-height:14.5px;color:#3d3b3c;letter-spacing:-0.45px">0.596</div>
<div class="t" style="left:285px;width:50.00px;text-align:right;top:718.23px;font-size:14.5px;line-height:14.5px;color:#3d3b3c;letter-spacing:-0.45px">0.576</div>
<div class="t" style="left:343px;width:43.00px;text-align:right;top:718.23px;font-size:14.5px;line-height:14.5px;color:#3d3b3c;letter-spacing:-0.45px">0.985</div>
<div class="t" style="left:394px;width:47.00px;text-align:right;top:718.23px;font-size:14.5px;line-height:14.5px;color:#3d3b3c;letter-spacing:-0.45px">0.960</div>
<div class="t" style="left:449px;width:46.00px;text-align:right;top:718.23px;font-size:14.5px;line-height:14.5px;color:#3d3b3c;letter-spacing:-0.45px">0.045</div>
<div class="t" style="left:503px;width:44.00px;text-align:right;top:718.23px;font-size:14.5px;line-height:14.5px;color:#3d3b3c;letter-spacing:-0.45px">0.037</div>
<div class="t" style="left:555px;width:85.5px;text-align:center;top:718.23px;font-size:14.5px;line-height:14.5px;font-weight:bold;color:#1e1b1c;letter-spacing:-0.2px">161-126</div>
<div class="t" style="left:640.5px;width:44.00px;text-align:right;top:718.23px;font-size:14.5px;line-height:14.5px;color:#3d3b3c;letter-spacing:-0.2px">100</div>
<div class="t" style="left:692.5px;width:94.0px;text-align:center;top:718.23px;font-size:14.5px;line-height:14.5px;font-weight:bold;color:#1e1b1c;letter-spacing:-0.2px">B161-126</div>
<div class="t" style="left:786.5px;width:49.35px;text-align:right;top:718.23px;font-size:14.5px;line-height:14.5px;color:#3d3b3c;letter-spacing:0.35px">5000</div>
<div style="position:absolute;left:160.00px;top:735.43px;width:683.00px;height:20.93px;background:#f7e5dc"></div>
<div style="position:absolute;left:88.00px;top:735.43px;width:72.00px;height:20.93px;background:#f6c7b3"></div>
<div class="t" style="left:96px;top:739.16px;font-size:14.5px;line-height:14.5px;color:#3d3b3c;letter-spacing:-0.6px">5/8</div>
<div class="t" style="left:160px;width:64.50px;text-align:right;top:739.16px;font-size:14.5px;line-height:14.5px;color:#3d3b3c;letter-spacing:-0.45px">0.425</div>
<div class="t" style="left:232.5px;width:44.50px;text-align:right;top:739.16px;font-size:14.5px;line-height:14.5px;color:#3d3b3c;letter-spacing:-0.45px">0.663</div>
<div class="t" style="left:285px;width:50.00px;text-align:right;top:739.16px;font-size:14.5px;line-height:14.5px;color:#3d3b3c;letter-spacing:-0.45px">0.641</div>
<div class="t" style="left:343px;width:43.00px;text-align:right;top:739.16px;font-size:14.5px;line-height:14.5px;color:#3d3b3c;letter-spacing:-0.45px">1.070</div>
<div class="t" style="left:394px;width:47.00px;text-align:right;top:739.16px;font-size:14.5px;line-height:14.5px;color:#3d3b3c;letter-spacing:-0.45px">1.045</div>
<div class="t" style="left:449px;width:46.00px;text-align:right;top:739.16px;font-size:14.5px;line-height:14.5px;color:#3d3b3c;letter-spacing:-0.45px">0.050</div>
<div class="t" style="left:503px;width:44.00px;text-align:right;top:739.16px;font-size:14.5px;line-height:14.5px;color:#3d3b3c;letter-spacing:-0.45px">0.042</div>
<div class="t" style="left:555px;width:85.5px;text-align:center;top:739.16px;font-size:14.5px;line-height:14.5px;font-weight:bold;color:#1e1b1c;letter-spacing:-0.2px">161-128</div>
<div class="t" style="left:640.5px;width:44.00px;text-align:right;top:739.16px;font-size:14.5px;line-height:14.5px;color:#3d3b3c;letter-spacing:-0.2px">100</div>
<div class="t" style="left:692.5px;width:94.0px;text-align:center;top:739.16px;font-size:14.5px;line-height:14.5px;font-weight:bold;color:#1e1b1c;letter-spacing:-0.2px">B161-128</div>
<div class="t" style="left:786.5px;width:49.35px;text-align:right;top:739.16px;font-size:14.5px;line-height:14.5px;color:#3d3b3c;letter-spacing:0.35px">4000</div>
<div style="position:absolute;left:160.00px;top:756.36px;width:683.00px;height:20.93px;background:#ffffff"></div>
<div style="position:absolute;left:88.00px;top:756.36px;width:72.00px;height:20.93px;background:#f6c7b3"></div>
<div class="t" style="left:96px;top:760.09px;font-size:14.5px;line-height:14.5px;color:#3d3b3c;letter-spacing:-0.6px">3/4</div>
<div class="t" style="left:160px;width:64.50px;text-align:right;top:760.09px;font-size:14.5px;line-height:14.5px;color:#3d3b3c;letter-spacing:-0.45px">0.680</div>
<div class="t" style="left:232.5px;width:44.50px;text-align:right;top:760.09px;font-size:14.5px;line-height:14.5px;color:#3d3b3c;letter-spacing:-0.45px">0.795</div>
<div class="t" style="left:285px;width:50.00px;text-align:right;top:760.09px;font-size:14.5px;line-height:14.5px;color:#3d3b3c;letter-spacing:-0.45px">0.768</div>
<div class="t" style="left:343px;width:43.00px;text-align:right;top:760.09px;font-size:14.5px;line-height:14.5px;color:#3d3b3c;letter-spacing:-0.45px">1.260</div>
<div class="t" style="left:394px;width:47.00px;text-align:right;top:760.09px;font-size:14.5px;line-height:14.5px;color:#3d3b3c;letter-spacing:-0.45px">1.220</div>
<div class="t" style="left:449px;width:46.00px;text-align:right;top:760.09px;font-size:14.5px;line-height:14.5px;color:#3d3b3c;letter-spacing:-0.45px">0.055</div>
<div class="t" style="left:503px;width:44.00px;text-align:right;top:760.09px;font-size:14.5px;line-height:14.5px;color:#3d3b3c;letter-spacing:-0.45px">0.047</div>
<div class="t" style="left:555px;width:85.5px;text-align:center;top:760.09px;font-size:14.5px;line-height:14.5px;font-weight:bold;color:#1e1b1c;letter-spacing:-0.2px">161-132</div>
<div class="t" style="left:640.5px;width:44.00px;text-align:right;top:760.09px;font-size:14.5px;line-height:14.5px;color:#3d3b3c;letter-spacing:-0.2px">100</div>
<div class="t" style="left:692.5px;width:94.0px;text-align:center;top:760.09px;font-size:14.5px;line-height:14.5px;font-weight:bold;color:#1e1b1c;letter-spacing:-0.2px">B161-132</div>
<div class="t" style="left:786.5px;width:49.35px;text-align:right;top:760.09px;font-size:14.5px;line-height:14.5px;color:#3d3b3c;letter-spacing:0.35px">3000</div>
<div style="position:absolute;left:160.00px;top:777.29px;width:683.00px;height:20.93px;background:#f7e5dc"></div>
<div style="position:absolute;left:88.00px;top:777.29px;width:72.00px;height:20.93px;background:#f6c7b3"></div>
<div class="t" style="left:96px;top:781.02px;font-size:14.5px;line-height:14.5px;color:#3d3b3c;letter-spacing:-0.6px">7/8</div>
<div class="t" style="left:160px;width:64.50px;text-align:right;top:781.02px;font-size:14.5px;line-height:14.5px;color:#3d3b3c;letter-spacing:-0.45px">0.925</div>
<div class="t" style="left:232.5px;width:44.50px;text-align:right;top:781.02px;font-size:14.5px;line-height:14.5px;color:#3d3b3c;letter-spacing:-0.45px">0.927</div>
<div class="t" style="left:285px;width:50.00px;text-align:right;top:781.02px;font-size:14.5px;line-height:14.5px;color:#3d3b3c;letter-spacing:-0.45px">0.897</div>
<div class="t" style="left:343px;width:43.00px;text-align:right;top:781.02px;font-size:14.5px;line-height:14.5px;color:#3d3b3c;letter-spacing:-0.45px">1.410</div>
<div class="t" style="left:394px;width:47.00px;text-align:right;top:781.02px;font-size:14.5px;line-height:14.5px;color:#3d3b3c;letter-spacing:-0.45px">1.380</div>
<div class="t" style="left:449px;width:46.00px;text-align:right;top:781.02px;font-size:14.5px;line-height:14.5px;color:#3d3b3c;letter-spacing:-0.45px">0.060</div>
<div class="t" style="left:503px;width:44.00px;text-align:right;top:781.02px;font-size:14.5px;line-height:14.5px;color:#3d3b3c;letter-spacing:-0.45px">0.052</div>
<div class="t" style="left:555px;width:85.5px;text-align:center;top:781.02px;font-size:14.5px;line-height:14.5px;font-weight:bold;color:#1e1b1c;letter-spacing:-0.2px">161-134</div>
<div class="t" style="left:640.5px;width:44.00px;text-align:right;top:781.02px;font-size:14.5px;line-height:14.5px;color:#3d3b3c;letter-spacing:-0.2px">100</div>
<div class="t" style="left:692.5px;width:94.0px;text-align:center;top:781.02px;font-size:14.5px;line-height:14.5px;font-weight:bold;color:#1e1b1c;letter-spacing:-0.2px">B161-134</div>
<div class="t" style="left:786.5px;width:49.35px;text-align:right;top:781.02px;font-size:14.5px;line-height:14.5px;color:#3d3b3c;letter-spacing:0.35px">2000</div>
<div style="position:absolute;left:160.00px;top:798.22px;width:683.00px;height:20.93px;background:#ffffff"></div>
<div style="position:absolute;left:88.00px;top:798.22px;width:72.00px;height:20.93px;background:#f6c7b3"></div>
<div class="t" style="left:96px;top:801.95px;font-size:14.5px;line-height:14.5px;color:#3d3b3c;letter-spacing:-0.6px">1</div>
<div class="t" style="left:160px;width:64.50px;text-align:right;top:801.95px;font-size:14.5px;line-height:14.5px;color:#3d3b3c;letter-spacing:-0.45px">1.300</div>
<div class="t" style="left:232.5px;width:44.50px;text-align:right;top:801.95px;font-size:14.5px;line-height:14.5px;color:#3d3b3c;letter-spacing:-0.45px">1.060</div>
<div class="t" style="left:285px;width:50.00px;text-align:right;top:801.95px;font-size:14.5px;line-height:14.5px;color:#3d3b3c;letter-spacing:-0.45px">1.025</div>
<div class="t" style="left:343px;width:43.00px;text-align:right;top:801.95px;font-size:14.5px;line-height:14.5px;color:#3d3b3c;letter-spacing:-0.45px">1.620</div>
<div class="t" style="left:394px;width:47.00px;text-align:right;top:801.95px;font-size:14.5px;line-height:14.5px;color:#3d3b3c;letter-spacing:-0.45px">1.590</div>
<div class="t" style="left:449px;width:46.00px;text-align:right;top:801.95px;font-size:14.5px;line-height:14.5px;color:#3d3b3c;letter-spacing:-0.45px">0.067</div>
<div class="t" style="left:503px;width:44.00px;text-align:right;top:801.95px;font-size:14.5px;line-height:14.5px;color:#3d3b3c;letter-spacing:-0.45px">0.059</div>
<div class="t" style="left:555px;width:85.5px;text-align:center;top:801.95px;font-size:14.5px;line-height:14.5px;font-weight:bold;color:#1e1b1c;letter-spacing:-0.2px">161-136</div>
<div class="t" style="left:640.5px;width:44.00px;text-align:right;top:801.95px;font-size:14.5px;line-height:14.5px;color:#3d3b3c;letter-spacing:-0.2px">100</div>
<div class="t" style="left:692.5px;width:94.0px;text-align:center;top:801.95px;font-size:14.5px;line-height:14.5px;font-weight:bold;color:#1e1b1c;letter-spacing:-0.2px">B161-136</div>
<div class="t" style="left:786.5px;width:49.35px;text-align:right;top:801.95px;font-size:14.5px;line-height:14.5px;color:#3d3b3c;letter-spacing:0.35px">2000</div>
<div style="position:absolute;left:88.00px;top:504.50px;width:755.00px;height:1.40px;background:#6d6b6b"></div>
<div style="position:absolute;left:88.00px;top:525.43px;width:755.00px;height:1.40px;background:#6d6b6b"></div>
<div style="position:absolute;left:88.00px;top:546.36px;width:755.00px;height:1.40px;background:#6d6b6b"></div>
<div style="position:absolute;left:88.00px;top:567.29px;width:755.00px;height:1.40px;background:#6d6b6b"></div>
<div style="position:absolute;left:88.00px;top:588.22px;width:755.00px;height:1.40px;background:#6d6b6b"></div>
<div style="position:absolute;left:88.00px;top:609.15px;width:755.00px;height:1.40px;background:#6d6b6b"></div>
<div style="position:absolute;left:88.00px;top:630.08px;width:755.00px;height:1.40px;background:#6d6b6b"></div>
<div style="position:absolute;left:88.00px;top:651.01px;width:755.00px;height:1.40px;background:#6d6b6b"></div>
<div style="position:absolute;left:88.00px;top:671.94px;width:755.00px;height:1.40px;background:#6d6b6b"></div>
<div style="position:absolute;left:88.00px;top:692.87px;width:755.00px;height:1.40px;background:#6d6b6b"></div>
<div style="position:absolute;left:88.00px;top:713.80px;width:755.00px;height:1.40px;background:#6d6b6b"></div>
<div style="position:absolute;left:88.00px;top:734.73px;width:755.00px;height:1.40px;background:#6d6b6b"></div>
<div style="position:absolute;left:88.00px;top:755.66px;width:755.00px;height:1.40px;background:#6d6b6b"></div>
<div style="position:absolute;left:88.00px;top:776.59px;width:755.00px;height:1.40px;background:#6d6b6b"></div>
<div style="position:absolute;left:88.00px;top:797.52px;width:755.00px;height:1.40px;background:#6d6b6b"></div>
<div style="position:absolute;left:88.00px;top:818.45px;width:755.00px;height:1.40px;background:#6d6b6b"></div>
<div style="position:absolute;left:87.30px;top:505.20px;width:1.40px;height:313.95px;background:#6d6b6b"></div>
<div style="position:absolute;left:159.30px;top:505.20px;width:1.40px;height:313.95px;background:#6d6b6b"></div>
<div style="position:absolute;left:231.80px;top:505.20px;width:1.40px;height:313.95px;background:#6d6b6b"></div>
<div style="position:absolute;left:284.30px;top:505.20px;width:1.40px;height:313.95px;background:#6d6b6b"></div>
<div style="position:absolute;left:342.30px;top:505.20px;width:1.40px;height:313.95px;background:#6d6b6b"></div>
<div style="position:absolute;left:393.30px;top:505.20px;width:1.40px;height:313.95px;background:#6d6b6b"></div>
<div style="position:absolute;left:448.30px;top:505.20px;width:1.40px;height:313.95px;background:#6d6b6b"></div>
<div style="position:absolute;left:502.30px;top:505.20px;width:1.40px;height:313.95px;background:#6d6b6b"></div>
<div style="position:absolute;left:554.30px;top:505.20px;width:1.40px;height:313.95px;background:#6d6b6b"></div>
<div style="position:absolute;left:639.80px;top:505.20px;width:1.40px;height:313.95px;background:#6d6b6b"></div>
<div style="position:absolute;left:691.80px;top:505.20px;width:1.40px;height:313.95px;background:#6d6b6b"></div>
<div style="position:absolute;left:785.80px;top:505.20px;width:1.40px;height:313.95px;background:#6d6b6b"></div>
<div style="position:absolute;left:842.30px;top:505.20px;width:1.40px;height:313.95px;background:#6d6b6b"></div>
<div style="position:absolute;left:88.00px;top:424.60px;width:755.00px;height:1.40px;background:#5f6b71"></div>
<div style="position:absolute;left:87.30px;top:425.30px;width:1.40px;height:30.00px;background:#6a8996"></div>
<div style="position:absolute;left:842.30px;top:425.30px;width:1.40px;height:30.00px;background:#6a8996"></div>
<div style="position:absolute;left:88.00px;top:455.30px;width:755.00px;height:49.90px;background:#f47b4e"></div>
<div style="position:absolute;left:88.00px;top:454.60px;width:755.00px;height:1.40px;background:#8a4f3a"></div>
<div style="position:absolute;left:232.50px;top:479.50px;width:322.50px;height:1.40px;background:#8a4f3a"></div>
<div style="position:absolute;left:87.30px;top:455.30px;width:1.40px;height:49.90px;background:#c9683f"></div>
<div style="position:absolute;left:159.30px;top:455.30px;width:1.40px;height:49.90px;background:#8a4f3a"></div>
<div style="position:absolute;left:231.80px;top:455.30px;width:1.40px;height:49.90px;background:#8a4f3a"></div>
<div style="position:absolute;left:284.30px;top:480.20px;width:1.40px;height:25.00px;background:#8a4f3a"></div>
<div style="position:absolute;left:342.30px;top:455.30px;width:1.40px;height:49.90px;background:#8a4f3a"></div>
<div style="position:absolute;left:393.30px;top:480.20px;width:1.40px;height:25.00px;background:#8a4f3a"></div>
<div style="position:absolute;left:448.30px;top:455.30px;width:1.40px;height:49.90px;background:#8a4f3a"></div>
<div style="position:absolute;left:502.30px;top:480.20px;width:1.40px;height:25.00px;background:#8a4f3a"></div>
<div style="position:absolute;left:554.30px;top:455.30px;width:1.40px;height:49.90px;background:#8a4f3a"></div>
<div style="position:absolute;left:639.80px;top:455.30px;width:1.40px;height:49.90px;background:#8a4f3a"></div>
<div style="position:absolute;left:691.80px;top:455.30px;width:1.40px;height:49.90px;background:#8a4f3a"></div>
<div style="position:absolute;left:785.80px;top:455.30px;width:1.40px;height:49.90px;background:#8a4f3a"></div>
<div style="position:absolute;left:842.30px;top:455.30px;width:1.40px;height:49.90px;background:#c9683f"></div>
<div class="t" style="left:88px;width:72px;text-align:center;top:472.72px;font-size:13.8px;line-height:13.8px;font-weight:bold;color:#fff;letter-spacing:0px;transform:scaleX(0.9);transform-origin:center center">Bolt Size</div>
<div class="t" style="left:160px;width:72.5px;text-align:center;top:458.92px;font-size:12.5px;line-height:12.5px;font-weight:bold;color:#fff;letter-spacing:0px;transform:scaleX(0.86);transform-origin:center center">Approx.</div>
<div class="t" style="left:160px;width:72.5px;text-align:center;top:473.32px;font-size:12.5px;line-height:12.5px;font-weight:bold;color:#fff;letter-spacing:0px;transform:scaleX(0.86);transform-origin:center center">Weight (lb)</div>
<div class="t" style="left:160px;width:72.5px;text-align:center;top:489.12px;font-size:12.5px;line-height:12.5px;font-weight:bold;color:#fff;letter-spacing:0px;transform:scaleX(0.86);transform-origin:center center">/100 pcs</div>
<div class="t" style="left:232.5px;width:110.5px;text-align:center;top:460.75px;font-size:14px;line-height:14px;font-weight:bold;color:#fff;letter-spacing:2.5px;transform:scaleX(1.0);transform-origin:center center">I.D</div>
<div class="t" style="left:343px;width:106px;text-align:center;top:460.75px;font-size:14px;line-height:14px;font-weight:bold;color:#fff;letter-spacing:2.5px;transform:scaleX(1.0);transform-origin:center center">O.D</div>
<div class="t" style="left:449px;width:106px;text-align:center;top:460.75px;font-size:14px;line-height:14px;font-weight:bold;color:#fff;letter-spacing:0px;transform:scaleX(1.0);transform-origin:center center">T</div>
<div class="t" style="left:232.5px;width:52.5px;text-align:center;top:486.46px;font-size:13.4px;line-height:13.4px;font-weight:bold;color:#fff;letter-spacing:0px;transform:scaleX(0.92);transform-origin:center center">Max</div>
<div class="t" style="left:285px;width:58px;text-align:center;top:486.46px;font-size:13.4px;line-height:13.4px;font-weight:bold;color:#fff;letter-spacing:0px;transform:scaleX(0.92);transform-origin:center center">Min</div>
<div class="t" style="left:343px;width:51px;text-align:center;top:486.46px;font-size:13.4px;line-height:13.4px;font-weight:bold;color:#fff;letter-spacing:0px;transform:scaleX(0.92);transform-origin:center center">Max</div>
<div class="t" style="left:394px;width:55px;text-align:center;top:486.46px;font-size:13.4px;line-height:13.4px;font-weight:bold;color:#fff;letter-spacing:0px;transform:scaleX(0.92);transform-origin:center center">Min</div>
<div class="t" style="left:449px;width:54px;text-align:center;top:486.46px;font-size:13.4px;line-height:13.4px;font-weight:bold;color:#fff;letter-spacing:0px;transform:scaleX(0.92);transform-origin:center center">Max</div>
<div class="t" style="left:503px;width:52px;text-align:center;top:486.46px;font-size:13.4px;line-height:13.4px;font-weight:bold;color:#fff;letter-spacing:0px;transform:scaleX(0.92);transform-origin:center center">Min</div>
<div class="t" style="left:555px;width:85.5px;text-align:center;top:473.06px;font-size:13.4px;line-height:13.4px;font-weight:bold;color:#fff;letter-spacing:0px;transform:scaleX(0.88);transform-origin:center center">Black Box #</div>
<div class="t" style="left:640.5px;width:52.0px;text-align:center;top:473.06px;font-size:13.4px;line-height:13.4px;font-weight:bold;color:#fff;letter-spacing:0px;transform:scaleX(0.92);transform-origin:center center">Qty</div>
<div class="t" style="left:692.5px;width:94.0px;text-align:center;top:473.06px;font-size:13.4px;line-height:13.4px;font-weight:bold;color:#fff;letter-spacing:0px;transform:scaleX(0.86);transform-origin:center center">Bulk Carton #</div>
<div class="t" style="left:786.5px;width:56.5px;text-align:center;top:473.06px;font-size:13.4px;line-height:13.4px;font-weight:bold;color:#fff;letter-spacing:0px;transform:scaleX(0.92);transform-origin:center center">Qty</div>
<div style="position:absolute;left:88.00px;top:819.40px;width:755.00px;height:30.70px;background:#7ba1af"></div>
<div class="t" style="left:102.6px;top:826.17px;font-size:17.4px;line-height:17.4px;font-weight:bold;color:#231f20;letter-spacing:1.5px;transform:scaleX(0.76);transform-origin:left center">INTERNAL TYPE - ZINC</div>
<div class="t" style="left:600px;width:228.5px;text-align:right;top:828.03px;font-size:14.5px;line-height:14.5px;color:#33393c;letter-spacing:0.0px">Hardness Class 392-513 HV</div>
<div style="position:absolute;left:160.00px;top:850.10px;width:683.00px;height:20.93px;background:#ffffff"></div>
<div style="position:absolute;left:88.00px;top:850.10px;width:72.00px;height:20.93px;background:#f6c7b3"></div>
<div class="t" style="left:96px;top:853.83px;font-size:14.5px;line-height:14.5px;color:#3d3b3c;letter-spacing:-0.6px">#4</div>
<div class="t" style="left:160px;width:64.50px;text-align:right;top:853.83px;font-size:14.5px;line-height:14.5px;color:#3d3b3c;letter-spacing:-0.45px">0.019</div>
<div class="t" style="left:232.5px;width:44.50px;text-align:right;top:853.83px;font-size:14.5px;line-height:14.5px;color:#3d3b3c;letter-spacing:-0.45px">0.123</div>
<div class="t" style="left:285px;width:50.00px;text-align:right;top:853.83px;font-size:14.5px;line-height:14.5px;color:#3d3b3c;letter-spacing:-0.45px">0.115</div>
<div class="t" style="left:343px;width:43.00px;text-align:right;top:853.83px;font-size:14.5px;line-height:14.5px;color:#3d3b3c;letter-spacing:-0.45px">0.270</div>
<div class="t" style="left:394px;width:47.00px;text-align:right;top:853.83px;font-size:14.5px;line-height:14.5px;color:#3d3b3c;letter-spacing:-0.45px">0.245</div>
<div class="t" style="left:449px;width:46.00px;text-align:right;top:853.83px;font-size:14.5px;line-height:14.5px;color:#3d3b3c;letter-spacing:-0.45px">0.018</div>
<div class="t" style="left:503px;width:44.00px;text-align:right;top:853.83px;font-size:14.5px;line-height:14.5px;color:#3d3b3c;letter-spacing:-0.45px">0.012</div>
<div class="t" style="left:555px;width:85.5px;text-align:center;top:853.83px;font-size:14.5px;line-height:14.5px;font-weight:bold;color:#1e1b1c;letter-spacing:-0.2px">161-204</div>
<div class="t" style="left:640.5px;width:44.00px;text-align:right;top:853.83px;font-size:14.5px;line-height:14.5px;color:#3d3b3c;letter-spacing:-0.2px">100</div>
<div class="t" style="left:692.5px;width:94.0px;text-align:center;top:853.83px;font-size:14.5px;line-height:14.5px;font-weight:bold;color:#1e1b1c;letter-spacing:-0.2px">B161-204</div>
<div class="t" style="left:786.5px;width:49.35px;text-align:right;top:853.83px;font-size:14.5px;line-height:14.5px;color:#3d3b3c;letter-spacing:0.35px">15000</div>
<div style="position:absolute;left:160.00px;top:871.03px;width:683.00px;height:20.93px;background:#f7e5dc"></div>
<div style="position:absolute;left:88.00px;top:871.03px;width:72.00px;height:20.93px;background:#f6c7b3"></div>
<div class="t" style="left:96px;top:874.76px;font-size:14.5px;line-height:14.5px;color:#3d3b3c;letter-spacing:-0.6px">#6 (1/8)</div>
<div class="t" style="left:160px;width:64.50px;text-align:right;top:874.76px;font-size:14.5px;line-height:14.5px;color:#3d3b3c;letter-spacing:-0.45px">0.010</div>
<div class="t" style="left:232.5px;width:44.50px;text-align:right;top:874.76px;font-size:14.5px;line-height:14.5px;color:#3d3b3c;letter-spacing:-0.45px">0.150</div>
<div class="t" style="left:285px;width:50.00px;text-align:right;top:874.76px;font-size:14.5px;line-height:14.5px;color:#3d3b3c;letter-spacing:-0.45px">0.141</div>
<div class="t" style="left:343px;width:43.00px;text-align:right;top:874.76px;font-size:14.5px;line-height:14.5px;color:#3d3b3c;letter-spacing:-0.45px">0.295</div>
<div class="t" style="left:394px;width:47.00px;text-align:right;top:874.76px;font-size:14.5px;line-height:14.5px;color:#3d3b3c;letter-spacing:-0.45px">0.275</div>
<div class="t" style="left:449px;width:46.00px;text-align:right;top:874.76px;font-size:14.5px;line-height:14.5px;color:#3d3b3c;letter-spacing:-0.45px">0.022</div>
<div class="t" style="left:503px;width:44.00px;text-align:right;top:874.76px;font-size:14.5px;line-height:14.5px;color:#3d3b3c;letter-spacing:-0.45px">0.016</div>
<div class="t" style="left:555px;width:85.5px;text-align:center;top:874.76px;font-size:14.5px;line-height:14.5px;font-weight:bold;color:#1e1b1c;letter-spacing:-0.2px">161-206</div>
<div class="t" style="left:640.5px;width:44.00px;text-align:right;top:874.76px;font-size:14.5px;line-height:14.5px;color:#3d3b3c;letter-spacing:-0.2px">100</div>
<div style="position:absolute;left:731.70px;top:881px;width:15.6px;height:1px;background:#3d3d3d"></div>
<div style="position:absolute;left:820.60px;top:881px;width:15.6px;height:1px;background:#3d3d3d"></div>
<div style="position:absolute;left:160.00px;top:891.96px;width:683.00px;height:20.93px;background:#ffffff"></div>
<div style="position:absolute;left:88.00px;top:891.96px;width:72.00px;height:20.93px;background:#f6c7b3"></div>
<div class="t" style="left:96px;top:895.69px;font-size:14.5px;line-height:14.5px;color:#3d3b3c;letter-spacing:-0.6px">#8 (5/32)</div>
<div class="t" style="left:160px;width:64.50px;text-align:right;top:895.69px;font-size:14.5px;line-height:14.5px;color:#3d3b3c;letter-spacing:-0.45px">0.026</div>
<div class="t" style="left:232.5px;width:44.50px;text-align:right;top:895.69px;font-size:14.5px;line-height:14.5px;color:#3d3b3c;letter-spacing:-0.45px">0.176</div>
<div class="t" style="left:285px;width:50.00px;text-align:right;top:895.69px;font-size:14.5px;line-height:14.5px;color:#3d3b3c;letter-spacing:-0.45px">0.168</div>
<div class="t" style="left:343px;width:43.00px;text-align:right;top:895.69px;font-size:14.5px;line-height:14.5px;color:#3d3b3c;letter-spacing:-0.45px">0.340</div>
<div class="t" style="left:394px;width:47.00px;text-align:right;top:895.69px;font-size:14.5px;line-height:14.5px;color:#3d3b3c;letter-spacing:-0.45px">0.325</div>
<div class="t" style="left:449px;width:46.00px;text-align:right;top:895.69px;font-size:14.5px;line-height:14.5px;color:#3d3b3c;letter-spacing:-0.45px">0.023</div>
<div class="t" style="left:503px;width:44.00px;text-align:right;top:895.69px;font-size:14.5px;line-height:14.5px;color:#3d3b3c;letter-spacing:-0.45px">0.018</div>
<div class="t" style="left:555px;width:85.5px;text-align:center;top:895.69px;font-size:14.5px;line-height:14.5px;font-weight:bold;color:#1e1b1c;letter-spacing:-0.2px">161-208</div>
<div class="t" style="left:640.5px;width:44.00px;text-align:right;top:895.69px;font-size:14.5px;line-height:14.5px;color:#3d3b3c;letter-spacing:-0.2px">100</div>
<div style="position:absolute;left:731.70px;top:902px;width:15.6px;height:1px;background:#3d3d3d"></div>
<div style="position:absolute;left:820.60px;top:902px;width:15.6px;height:1px;background:#3d3d3d"></div>
<div style="position:absolute;left:160.00px;top:912.89px;width:683.00px;height:20.93px;background:#f7e5dc"></div>
<div style="position:absolute;left:88.00px;top:912.89px;width:72.00px;height:20.93px;background:#f6c7b3"></div>
<div class="t" style="left:96px;top:916.62px;font-size:14.5px;line-height:14.5px;color:#3d3b3c;letter-spacing:-0.6px">#10 (3/16)</div>
<div class="t" style="left:160px;width:64.50px;text-align:right;top:916.62px;font-size:14.5px;line-height:14.5px;color:#3d3b3c;letter-spacing:-0.45px">0.020</div>
<div class="t" style="left:232.5px;width:44.50px;text-align:right;top:916.62px;font-size:14.5px;line-height:14.5px;color:#3d3b3c;letter-spacing:-0.45px">0.204</div>
<div class="t" style="left:285px;width:50.00px;text-align:right;top:916.62px;font-size:14.5px;line-height:14.5px;color:#3d3b3c;letter-spacing:-0.45px">0.195</div>
<div class="t" style="left:343px;width:43.00px;text-align:right;top:916.62px;font-size:14.5px;line-height:14.5px;color:#3d3b3c;letter-spacing:-0.45px">0.381</div>
<div class="t" style="left:394px;width:47.00px;text-align:right;top:916.62px;font-size:14.5px;line-height:14.5px;color:#3d3b3c;letter-spacing:-0.45px">0.365</div>
<div class="t" style="left:449px;width:46.00px;text-align:right;top:916.62px;font-size:14.5px;line-height:14.5px;color:#3d3b3c;letter-spacing:-0.45px">0.024</div>
<div class="t" style="left:503px;width:44.00px;text-align:right;top:916.62px;font-size:14.5px;line-height:14.5px;color:#3d3b3c;letter-spacing:-0.45px">0.018</div>
<div class="t" style="left:555px;width:85.5px;text-align:center;top:916.62px;font-size:14.5px;line-height:14.5px;font-weight:bold;color:#1e1b1c;letter-spacing:-0.2px">161-210</div>
<div class="t" style="left:640.5px;width:44.00px;text-align:right;top:916.62px;font-size:14.5px;line-height:14.5px;color:#3d3b3c;letter-spacing:-0.2px">100</div>
<div style="position:absolute;left:731.70px;top:923px;width:15.6px;height:1px;background:#3d3d3d"></div>
<div style="position:absolute;left:820.60px;top:923px;width:15.6px;height:1px;background:#3d3d3d"></div>
<div style="position:absolute;left:160.00px;top:933.82px;width:683.00px;height:20.93px;background:#ffffff"></div>
<div style="position:absolute;left:88.00px;top:933.82px;width:72.00px;height:20.93px;background:#f6c7b3"></div>
<div class="t" style="left:96px;top:937.55px;font-size:14.5px;line-height:14.5px;color:#3d3b3c;letter-spacing:-0.6px">1/4</div>
<div class="t" style="left:160px;width:64.50px;text-align:right;top:937.55px;font-size:14.5px;line-height:14.5px;color:#3d3b3c;letter-spacing:-0.45px">0.070</div>
<div class="t" style="left:232.5px;width:44.50px;text-align:right;top:937.55px;font-size:14.5px;line-height:14.5px;color:#3d3b3c;letter-spacing:-0.45px">0.267</div>
<div class="t" style="left:285px;width:50.00px;text-align:right;top:937.55px;font-size:14.5px;line-height:14.5px;color:#3d3b3c;letter-spacing:-0.45px">0.256</div>
<div class="t" style="left:343px;width:43.00px;text-align:right;top:937.55px;font-size:14.5px;line-height:14.5px;color:#3d3b3c;letter-spacing:-0.45px">0.478</div>
<div class="t" style="left:394px;width:47.00px;text-align:right;top:937.55px;font-size:14.5px;line-height:14.5px;color:#3d3b3c;letter-spacing:-0.45px">0.460</div>
<div class="t" style="left:449px;width:46.00px;text-align:right;top:937.55px;font-size:14.5px;line-height:14.5px;color:#3d3b3c;letter-spacing:-0.45px">0.028</div>
<div class="t" style="left:503px;width:44.00px;text-align:right;top:937.55px;font-size:14.5px;line-height:14.5px;color:#3d3b3c;letter-spacing:-0.45px">0.023</div>
<div class="t" style="left:555px;width:85.5px;text-align:center;top:937.55px;font-size:14.5px;line-height:14.5px;font-weight:bold;color:#1e1b1c;letter-spacing:-0.2px">161-214</div>
<div class="t" style="left:640.5px;width:44.00px;text-align:right;top:937.55px;font-size:14.5px;line-height:14.5px;color:#3d3b3c;letter-spacing:-0.2px">100</div>
<div style="position:absolute;left:731.70px;top:944px;width:15.6px;height:1px;background:#3d3d3d"></div>
<div style="position:absolute;left:820.60px;top:944px;width:15.6px;height:1px;background:#3d3d3d"></div>
<div style="position:absolute;left:160.00px;top:954.75px;width:683.00px;height:20.93px;background:#f7e5dc"></div>
<div style="position:absolute;left:88.00px;top:954.75px;width:72.00px;height:20.93px;background:#f6c7b3"></div>
<div class="t" style="left:96px;top:958.48px;font-size:14.5px;line-height:14.5px;color:#3d3b3c;letter-spacing:-0.6px">5/16</div>
<div class="t" style="left:160px;width:64.50px;text-align:right;top:958.48px;font-size:14.5px;line-height:14.5px;color:#3d3b3c;letter-spacing:-0.45px">0.105</div>
<div class="t" style="left:232.5px;width:44.50px;text-align:right;top:958.48px;font-size:14.5px;line-height:14.5px;color:#3d3b3c;letter-spacing:-0.45px">0.332</div>
<div class="t" style="left:285px;width:50.00px;text-align:right;top:958.48px;font-size:14.5px;line-height:14.5px;color:#3d3b3c;letter-spacing:-0.45px">0.320</div>
<div class="t" style="left:343px;width:43.00px;text-align:right;top:958.48px;font-size:14.5px;line-height:14.5px;color:#3d3b3c;letter-spacing:-0.45px">0.610</div>
<div class="t" style="left:394px;width:47.00px;text-align:right;top:958.48px;font-size:14.5px;line-height:14.5px;color:#3d3b3c;letter-spacing:-0.45px">0.594</div>
<div class="t" style="left:449px;width:46.00px;text-align:right;top:958.48px;font-size:14.5px;line-height:14.5px;color:#3d3b3c;letter-spacing:-0.45px">0.034</div>
<div class="t" style="left:503px;width:44.00px;text-align:right;top:958.48px;font-size:14.5px;line-height:14.5px;color:#3d3b3c;letter-spacing:-0.45px">0.028</div>
<div class="t" style="left:555px;width:85.5px;text-align:center;top:958.48px;font-size:14.5px;line-height:14.5px;font-weight:bold;color:#1e1b1c;letter-spacing:-0.2px">161-218</div>
<div class="t" style="left:640.5px;width:44.00px;text-align:right;top:958.48px;font-size:14.5px;line-height:14.5px;color:#3d3b3c;letter-spacing:-0.2px">100</div>
<div style="position:absolute;left:731.70px;top:965px;width:15.6px;height:1px;background:#3d3d3d"></div>
<div style="position:absolute;left:820.60px;top:965px;width:15.6px;height:1px;background:#3d3d3d"></div>
<div style="position:absolute;left:160.00px;top:975.68px;width:683.00px;height:20.93px;background:#ffffff"></div>
<div style="position:absolute;left:88.00px;top:975.68px;width:72.00px;height:20.93px;background:#f6c7b3"></div>
<div class="t" style="left:96px;top:979.41px;font-size:14.5px;line-height:14.5px;color:#3d3b3c;letter-spacing:-0.6px">3/8</div>
<div class="t" style="left:160px;width:64.50px;text-align:right;top:979.41px;font-size:14.5px;line-height:14.5px;color:#3d3b3c;letter-spacing:-0.45px">0.155</div>
<div class="t" style="left:232.5px;width:44.50px;text-align:right;top:979.41px;font-size:14.5px;line-height:14.5px;color:#3d3b3c;letter-spacing:-0.45px">0.398</div>
<div class="t" style="left:285px;width:50.00px;text-align:right;top:979.41px;font-size:14.5px;line-height:14.5px;color:#3d3b3c;letter-spacing:-0.45px">0.384</div>
<div class="t" style="left:343px;width:43.00px;text-align:right;top:979.41px;font-size:14.5px;line-height:14.5px;color:#3d3b3c;letter-spacing:-0.45px">0.692</div>
<div class="t" style="left:394px;width:47.00px;text-align:right;top:979.41px;font-size:14.5px;line-height:14.5px;color:#3d3b3c;letter-spacing:-0.45px">0.670</div>
<div class="t" style="left:449px;width:46.00px;text-align:right;top:979.41px;font-size:14.5px;line-height:14.5px;color:#3d3b3c;letter-spacing:-0.45px">0.040</div>
<div class="t" style="left:503px;width:44.00px;text-align:right;top:979.41px;font-size:14.5px;line-height:14.5px;color:#3d3b3c;letter-spacing:-0.45px">0.032</div>
<div class="t" style="left:555px;width:85.5px;text-align:center;top:979.41px;font-size:14.5px;line-height:14.5px;font-weight:bold;color:#1e1b1c;letter-spacing:-0.2px">161-220</div>
<div class="t" style="left:640.5px;width:44.00px;text-align:right;top:979.41px;font-size:14.5px;line-height:14.5px;color:#3d3b3c;letter-spacing:-0.2px">100</div>
<div style="position:absolute;left:731.70px;top:986px;width:15.6px;height:1px;background:#3d3d3d"></div>
<div style="position:absolute;left:820.60px;top:986px;width:15.6px;height:1px;background:#3d3d3d"></div>
<div style="position:absolute;left:160.00px;top:996.61px;width:683.00px;height:20.93px;background:#f7e5dc"></div>
<div style="position:absolute;left:88.00px;top:996.61px;width:72.00px;height:20.93px;background:#f6c7b3"></div>
<div class="t" style="left:96px;top:1000.34px;font-size:14.5px;line-height:14.5px;color:#3d3b3c;letter-spacing:-0.6px">7/16</div>
<div class="t" style="left:160px;width:64.50px;text-align:right;top:1000.34px;font-size:14.5px;line-height:14.5px;color:#3d3b3c;letter-spacing:-0.45px">0.180</div>
<div class="t" style="left:232.5px;width:44.50px;text-align:right;top:1000.34px;font-size:14.5px;line-height:14.5px;color:#3d3b3c;letter-spacing:-0.45px">0.464</div>
<div class="t" style="left:285px;width:50.00px;text-align:right;top:1000.34px;font-size:14.5px;line-height:14.5px;color:#3d3b3c;letter-spacing:-0.45px">0.448</div>
<div class="t" style="left:343px;width:43.00px;text-align:right;top:1000.34px;font-size:14.5px;line-height:14.5px;color:#3d3b3c;letter-spacing:-0.45px">0.789</div>
<div class="t" style="left:394px;width:47.00px;text-align:right;top:1000.34px;font-size:14.5px;line-height:14.5px;color:#3d3b3c;letter-spacing:-0.45px">0.740</div>
<div class="t" style="left:449px;width:46.00px;text-align:right;top:1000.34px;font-size:14.5px;line-height:14.5px;color:#3d3b3c;letter-spacing:-0.45px">0.040</div>
<div class="t" style="left:503px;width:44.00px;text-align:right;top:1000.34px;font-size:14.5px;line-height:14.5px;color:#3d3b3c;letter-spacing:-0.45px">0.032</div>
<div class="t" style="left:555px;width:85.5px;text-align:center;top:1000.34px;font-size:14.5px;line-height:14.5px;font-weight:bold;color:#1e1b1c;letter-spacing:-0.2px">161-222</div>
<div class="t" style="left:640.5px;width:44.00px;text-align:right;top:1000.34px;font-size:14.5px;line-height:14.5px;color:#3d3b3c;letter-spacing:-0.2px">100</div>
<div class="t" style="left:692.5px;width:94.0px;text-align:center;top:1000.34px;font-size:14.5px;line-height:14.5px;font-weight:bold;color:#1e1b1c;letter-spacing:-0.2px">B161-222</div>
<div class="t" style="left:786.5px;width:49.35px;text-align:right;top:1000.34px;font-size:14.5px;line-height:14.5px;color:#3d3b3c;letter-spacing:0.35px">10000</div>
<div style="position:absolute;left:160.00px;top:1017.54px;width:683.00px;height:20.93px;background:#ffffff"></div>
<div style="position:absolute;left:88.00px;top:1017.54px;width:72.00px;height:20.93px;background:#f6c7b3"></div>
<div class="t" style="left:96px;top:1021.27px;font-size:14.5px;line-height:14.5px;color:#3d3b3c;letter-spacing:-0.6px">1/2</div>
<div class="t" style="left:160px;width:64.50px;text-align:right;top:1021.27px;font-size:14.5px;line-height:14.5px;color:#3d3b3c;letter-spacing:-0.45px">0.300</div>
<div class="t" style="left:232.5px;width:44.50px;text-align:right;top:1021.27px;font-size:14.5px;line-height:14.5px;color:#3d3b3c;letter-spacing:-0.45px">0.530</div>
<div class="t" style="left:285px;width:50.00px;text-align:right;top:1021.27px;font-size:14.5px;line-height:14.5px;color:#3d3b3c;letter-spacing:-0.45px">0.512</div>
<div class="t" style="left:343px;width:43.00px;text-align:right;top:1021.27px;font-size:14.5px;line-height:14.5px;color:#3d3b3c;letter-spacing:-0.45px">0.900</div>
<div class="t" style="left:394px;width:47.00px;text-align:right;top:1021.27px;font-size:14.5px;line-height:14.5px;color:#3d3b3c;letter-spacing:-0.45px">0.867</div>
<div class="t" style="left:449px;width:46.00px;text-align:right;top:1021.27px;font-size:14.5px;line-height:14.5px;color:#3d3b3c;letter-spacing:-0.45px">0.045</div>
<div class="t" style="left:503px;width:44.00px;text-align:right;top:1021.27px;font-size:14.5px;line-height:14.5px;color:#3d3b3c;letter-spacing:-0.45px">0.037</div>
<div class="t" style="left:555px;width:85.5px;text-align:center;top:1021.27px;font-size:14.5px;line-height:14.5px;font-weight:bold;color:#1e1b1c;letter-spacing:-0.2px">161-224</div>
<div class="t" style="left:640.5px;width:44.00px;text-align:right;top:1021.27px;font-size:14.5px;line-height:14.5px;color:#3d3b3c;letter-spacing:-0.2px">100</div>
<div style="position:absolute;left:731.70px;top:1028px;width:15.6px;height:1px;background:#3d3d3d"></div>
<div style="position:absolute;left:820.60px;top:1028px;width:15.6px;height:1px;background:#3d3d3d"></div>
<div style="position:absolute;left:160.00px;top:1038.47px;width:683.00px;height:20.93px;background:#f7e5dc"></div>
<div style="position:absolute;left:88.00px;top:1038.47px;width:72.00px;height:20.93px;background:#f6c7b3"></div>
<div class="t" style="left:96px;top:1042.20px;font-size:14.5px;line-height:14.5px;color:#3d3b3c;letter-spacing:-0.6px">9/16</div>
<div class="t" style="left:160px;width:64.50px;text-align:right;top:1042.20px;font-size:14.5px;line-height:14.5px;color:#3d3b3c;letter-spacing:-0.45px">0.410</div>
<div class="t" style="left:232.5px;width:44.50px;text-align:right;top:1042.20px;font-size:14.5px;line-height:14.5px;color:#3d3b3c;letter-spacing:-0.45px">0.596</div>
<div class="t" style="left:285px;width:50.00px;text-align:right;top:1042.20px;font-size:14.5px;line-height:14.5px;color:#3d3b3c;letter-spacing:-0.45px">0.576</div>
<div class="t" style="left:343px;width:43.00px;text-align:right;top:1042.20px;font-size:14.5px;line-height:14.5px;color:#3d3b3c;letter-spacing:-0.45px">0.985</div>
<div class="t" style="left:394px;width:47.00px;text-align:right;top:1042.20px;font-size:14.5px;line-height:14.5px;color:#3d3b3c;letter-spacing:-0.45px">0.957</div>
<div class="t" style="left:449px;width:46.00px;text-align:right;top:1042.20px;font-size:14.5px;line-height:14.5px;color:#3d3b3c;letter-spacing:-0.45px">0.045</div>
<div class="t" style="left:503px;width:44.00px;text-align:right;top:1042.20px;font-size:14.5px;line-height:14.5px;color:#3d3b3c;letter-spacing:-0.45px">0.037</div>
<div class="t" style="left:555px;width:85.5px;text-align:center;top:1042.20px;font-size:14.5px;line-height:14.5px;font-weight:bold;color:#1e1b1c;letter-spacing:-0.2px">161-226</div>
<div class="t" style="left:640.5px;width:44.00px;text-align:right;top:1042.20px;font-size:14.5px;line-height:14.5px;color:#3d3b3c;letter-spacing:-0.2px">100</div>
<div style="position:absolute;left:731.70px;top:1049px;width:15.6px;height:1px;background:#3d3d3d"></div>
<div style="position:absolute;left:820.60px;top:1049px;width:15.6px;height:1px;background:#3d3d3d"></div>
<div style="position:absolute;left:160.00px;top:1059.40px;width:683.00px;height:20.93px;background:#ffffff"></div>
<div style="position:absolute;left:88.00px;top:1059.40px;width:72.00px;height:20.93px;background:#f6c7b3"></div>
<div class="t" style="left:96px;top:1063.13px;font-size:14.5px;line-height:14.5px;color:#3d3b3c;letter-spacing:-0.6px">5/8</div>
<div class="t" style="left:160px;width:64.50px;text-align:right;top:1063.13px;font-size:14.5px;line-height:14.5px;color:#3d3b3c;letter-spacing:-0.45px">0.470</div>
<div class="t" style="left:232.5px;width:44.50px;text-align:right;top:1063.13px;font-size:14.5px;line-height:14.5px;color:#3d3b3c;letter-spacing:-0.45px">0.663</div>
<div class="t" style="left:285px;width:50.00px;text-align:right;top:1063.13px;font-size:14.5px;line-height:14.5px;color:#3d3b3c;letter-spacing:-0.45px">0.640</div>
<div class="t" style="left:343px;width:43.00px;text-align:right;top:1063.13px;font-size:14.5px;line-height:14.5px;color:#3d3b3c;letter-spacing:-0.45px">1.071</div>
<div class="t" style="left:394px;width:47.00px;text-align:right;top:1063.13px;font-size:14.5px;line-height:14.5px;color:#3d3b3c;letter-spacing:-0.45px">1.045</div>
<div class="t" style="left:449px;width:46.00px;text-align:right;top:1063.13px;font-size:14.5px;line-height:14.5px;color:#3d3b3c;letter-spacing:-0.45px">0.050</div>
<div class="t" style="left:503px;width:44.00px;text-align:right;top:1063.13px;font-size:14.5px;line-height:14.5px;color:#3d3b3c;letter-spacing:-0.45px">0.042</div>
<div class="t" style="left:555px;width:85.5px;text-align:center;top:1063.13px;font-size:14.5px;line-height:14.5px;font-weight:bold;color:#1e1b1c;letter-spacing:-0.2px">161-228</div>
<div class="t" style="left:640.5px;width:44.00px;text-align:right;top:1063.13px;font-size:14.5px;line-height:14.5px;color:#3d3b3c;letter-spacing:-0.2px">100</div>
<div style="position:absolute;left:694.00px;top:1062.60px;width:90.00px;height:14.73px;border-radius:7px;background:#f6b291"></div>
<div class="t" style="left:692.5px;width:94.0px;text-align:center;top:1063.13px;font-size:14.5px;line-height:14.5px;font-weight:bold;color:#1e1b1c;letter-spacing:-0.2px">B161-228</div>
<div class="t" style="left:786.5px;width:49.35px;text-align:right;top:1063.13px;font-size:14.5px;line-height:14.5px;color:#3d3b3c;letter-spacing:0.35px">4000</div>
<div style="position:absolute;left:160.00px;top:1080.33px;width:683.00px;height:20.93px;background:#f7e5dc"></div>
<div style="position:absolute;left:88.00px;top:1080.33px;width:72.00px;height:20.93px;background:#f6c7b3"></div>
<div class="t" style="left:96px;top:1084.06px;font-size:14.5px;line-height:14.5px;color:#3d3b3c;letter-spacing:-0.6px">3/4</div>
<div class="t" style="left:160px;width:64.50px;text-align:right;top:1084.06px;font-size:14.5px;line-height:14.5px;color:#3d3b3c;letter-spacing:-0.45px">0.755</div>
<div class="t" style="left:232.5px;width:44.50px;text-align:right;top:1084.06px;font-size:14.5px;line-height:14.5px;color:#3d3b3c;letter-spacing:-0.45px">0.795</div>
<div class="t" style="left:285px;width:50.00px;text-align:right;top:1084.06px;font-size:14.5px;line-height:14.5px;color:#3d3b3c;letter-spacing:-0.45px">0.769</div>
<div class="t" style="left:343px;width:43.00px;text-align:right;top:1084.06px;font-size:14.5px;line-height:14.5px;color:#3d3b3c;letter-spacing:-0.45px">1.245</div>
<div class="t" style="left:394px;width:47.00px;text-align:right;top:1084.06px;font-size:14.5px;line-height:14.5px;color:#3d3b3c;letter-spacing:-0.45px">1.220</div>
<div class="t" style="left:449px;width:46.00px;text-align:right;top:1084.06px;font-size:14.5px;line-height:14.5px;color:#3d3b3c;letter-spacing:-0.45px">0.055</div>
<div class="t" style="left:503px;width:44.00px;text-align:right;top:1084.06px;font-size:14.5px;line-height:14.5px;color:#3d3b3c;letter-spacing:-0.45px">0.047</div>
<div class="t" style="left:555px;width:85.5px;text-align:center;top:1084.06px;font-size:14.5px;line-height:14.5px;font-weight:bold;color:#1e1b1c;letter-spacing:-0.2px">161-232</div>
<div class="t" style="left:640.5px;width:44.00px;text-align:right;top:1084.06px;font-size:14.5px;line-height:14.5px;color:#3d3b3c;letter-spacing:-0.2px">100</div>
<div class="t" style="left:692.5px;width:94.0px;text-align:center;top:1084.06px;font-size:14.5px;line-height:14.5px;font-weight:bold;color:#1e1b1c;letter-spacing:-0.2px">B161-232</div>
<div class="t" style="left:786.5px;width:49.35px;text-align:right;top:1084.06px;font-size:14.5px;line-height:14.5px;color:#3d3b3c;letter-spacing:0.35px">3000</div>
<div style="position:absolute;left:160.00px;top:1101.26px;width:683.00px;height:20.93px;background:#ffffff"></div>
<div style="position:absolute;left:88.00px;top:1101.26px;width:72.00px;height:20.93px;background:#f6c7b3"></div>
<div class="t" style="left:96px;top:1104.99px;font-size:14.5px;line-height:14.5px;color:#3d3b3c;letter-spacing:-0.6px">7/8</div>
<div class="t" style="left:160px;width:64.50px;text-align:right;top:1104.99px;font-size:14.5px;line-height:14.5px;color:#3d3b3c;letter-spacing:-0.45px">0.975</div>
<div class="t" style="left:232.5px;width:44.50px;text-align:right;top:1104.99px;font-size:14.5px;line-height:14.5px;color:#3d3b3c;letter-spacing:-0.45px">0.927</div>
<div class="t" style="left:285px;width:50.00px;text-align:right;top:1104.99px;font-size:14.5px;line-height:14.5px;color:#3d3b3c;letter-spacing:-0.45px">0.894</div>
<div class="t" style="left:343px;width:43.00px;text-align:right;top:1104.99px;font-size:14.5px;line-height:14.5px;color:#3d3b3c;letter-spacing:-0.45px">1.410</div>
<div class="t" style="left:394px;width:47.00px;text-align:right;top:1104.99px;font-size:14.5px;line-height:14.5px;color:#3d3b3c;letter-spacing:-0.45px">1.364</div>
<div class="t" style="left:449px;width:46.00px;text-align:right;top:1104.99px;font-size:14.5px;line-height:14.5px;color:#3d3b3c;letter-spacing:-0.45px">0.060</div>
<div class="t" style="left:503px;width:44.00px;text-align:right;top:1104.99px;font-size:14.5px;line-height:14.5px;color:#3d3b3c;letter-spacing:-0.45px">0.052</div>
<div class="t" style="left:555px;width:85.5px;text-align:center;top:1104.99px;font-size:14.5px;line-height:14.5px;font-weight:bold;color:#1e1b1c;letter-spacing:-0.2px">161-234</div>
<div class="t" style="left:640.5px;width:44.00px;text-align:right;top:1104.99px;font-size:14.5px;line-height:14.5px;color:#3d3b3c;letter-spacing:-0.2px">100</div>
<div class="t" style="left:692.5px;width:94.0px;text-align:center;top:1104.99px;font-size:14.5px;line-height:14.5px;font-weight:bold;color:#1e1b1c;letter-spacing:-0.2px">B161-234</div>
<div class="t" style="left:786.5px;width:49.35px;text-align:right;top:1104.99px;font-size:14.5px;line-height:14.5px;color:#3d3b3c;letter-spacing:0.35px">2000</div>
<div style="position:absolute;left:160.00px;top:1122.19px;width:683.00px;height:20.93px;background:#f7e5dc"></div>
<div style="position:absolute;left:88.00px;top:1122.19px;width:72.00px;height:20.93px;background:#f6c7b3"></div>
<div class="t" style="left:96px;top:1125.92px;font-size:14.5px;line-height:14.5px;color:#3d3b3c;letter-spacing:-0.6px">1</div>
<div class="t" style="left:160px;width:64.50px;text-align:right;top:1125.92px;font-size:14.5px;line-height:14.5px;color:#3d3b3c;letter-spacing:-0.45px">1.500</div>
<div class="t" style="left:232.5px;width:44.50px;text-align:right;top:1125.92px;font-size:14.5px;line-height:14.5px;color:#3d3b3c;letter-spacing:-0.45px">1.060</div>
<div class="t" style="left:285px;width:50.00px;text-align:right;top:1125.92px;font-size:14.5px;line-height:14.5px;color:#3d3b3c;letter-spacing:-0.45px">1.019</div>
<div class="t" style="left:343px;width:43.00px;text-align:right;top:1125.92px;font-size:14.5px;line-height:14.5px;color:#3d3b3c;letter-spacing:-0.45px">1.637</div>
<div class="t" style="left:394px;width:47.00px;text-align:right;top:1125.92px;font-size:14.5px;line-height:14.5px;color:#3d3b3c;letter-spacing:-0.45px">1.590</div>
<div class="t" style="left:449px;width:46.00px;text-align:right;top:1125.92px;font-size:14.5px;line-height:14.5px;color:#3d3b3c;letter-spacing:-0.45px">0.067</div>
<div class="t" style="left:503px;width:44.00px;text-align:right;top:1125.92px;font-size:14.5px;line-height:14.5px;color:#3d3b3c;letter-spacing:-0.45px">0.059</div>
<div class="t" style="left:555px;width:85.5px;text-align:center;top:1125.92px;font-size:14.5px;line-height:14.5px;font-weight:bold;color:#1e1b1c;letter-spacing:-0.2px">161-236</div>
<div class="t" style="left:640.5px;width:44.00px;text-align:right;top:1125.92px;font-size:14.5px;line-height:14.5px;color:#3d3b3c;letter-spacing:-0.2px">100</div>
<div class="t" style="left:692.5px;width:94.0px;text-align:center;top:1125.92px;font-size:14.5px;line-height:14.5px;font-weight:bold;color:#1e1b1c;letter-spacing:-0.2px">B161-236</div>
<div class="t" style="left:786.5px;width:49.35px;text-align:right;top:1125.92px;font-size:14.5px;line-height:14.5px;color:#3d3b3c;letter-spacing:0.35px">2000</div>
<div style="position:absolute;left:88.00px;top:849.40px;width:755.00px;height:1.40px;background:#6d6b6b"></div>
<div style="position:absolute;left:88.00px;top:870.33px;width:755.00px;height:1.40px;background:#6d6b6b"></div>
<div style="position:absolute;left:88.00px;top:891.26px;width:755.00px;height:1.40px;background:#6d6b6b"></div>
<div style="position:absolute;left:88.00px;top:912.19px;width:755.00px;height:1.40px;background:#6d6b6b"></div>
<div style="position:absolute;left:88.00px;top:933.12px;width:755.00px;height:1.40px;background:#6d6b6b"></div>
<div style="position:absolute;left:88.00px;top:954.05px;width:755.00px;height:1.40px;background:#6d6b6b"></div>
<div style="position:absolute;left:88.00px;top:974.98px;width:755.00px;height:1.40px;background:#6d6b6b"></div>
<div style="position:absolute;left:88.00px;top:995.91px;width:755.00px;height:1.40px;background:#6d6b6b"></div>
<div style="position:absolute;left:88.00px;top:1016.84px;width:755.00px;height:1.40px;background:#6d6b6b"></div>
<div style="position:absolute;left:88.00px;top:1037.77px;width:755.00px;height:1.40px;background:#6d6b6b"></div>
<div style="position:absolute;left:88.00px;top:1058.70px;width:755.00px;height:1.40px;background:#6d6b6b"></div>
<div style="position:absolute;left:88.00px;top:1079.63px;width:755.00px;height:1.40px;background:#6d6b6b"></div>
<div style="position:absolute;left:88.00px;top:1100.56px;width:755.00px;height:1.40px;background:#6d6b6b"></div>
<div style="position:absolute;left:88.00px;top:1121.49px;width:755.00px;height:1.40px;background:#6d6b6b"></div>
<div style="position:absolute;left:88.00px;top:1142.42px;width:755.00px;height:1.40px;background:#6d6b6b"></div>
<div style="position:absolute;left:87.30px;top:850.10px;width:1.40px;height:293.02px;background:#6d6b6b"></div>
<div style="position:absolute;left:159.30px;top:850.10px;width:1.40px;height:293.02px;background:#6d6b6b"></div>
<div style="position:absolute;left:231.80px;top:850.10px;width:1.40px;height:293.02px;background:#6d6b6b"></div>
<div style="position:absolute;left:284.30px;top:850.10px;width:1.40px;height:293.02px;background:#6d6b6b"></div>
<div style="position:absolute;left:342.30px;top:850.10px;width:1.40px;height:293.02px;background:#6d6b6b"></div>
<div style="position:absolute;left:393.30px;top:850.10px;width:1.40px;height:293.02px;background:#6d6b6b"></div>
<div style="position:absolute;left:448.30px;top:850.10px;width:1.40px;height:293.02px;background:#6d6b6b"></div>
<div style="position:absolute;left:502.30px;top:850.10px;width:1.40px;height:293.02px;background:#6d6b6b"></div>
<div style="position:absolute;left:554.30px;top:850.10px;width:1.40px;height:293.02px;background:#6d6b6b"></div>
<div style="position:absolute;left:639.80px;top:850.10px;width:1.40px;height:293.02px;background:#6d6b6b"></div>
<div style="position:absolute;left:691.80px;top:850.10px;width:1.40px;height:293.02px;background:#6d6b6b"></div>
<div style="position:absolute;left:785.80px;top:850.10px;width:1.40px;height:293.02px;background:#6d6b6b"></div>
<div style="position:absolute;left:842.30px;top:850.10px;width:1.40px;height:293.02px;background:#6d6b6b"></div>
<div style="position:absolute;left:88.00px;top:818.70px;width:755.00px;height:1.40px;background:#5f6b71"></div>
<div style="position:absolute;left:87.30px;top:819.40px;width:1.40px;height:30.70px;background:#6a8996"></div>
<div style="position:absolute;left:842.30px;top:819.40px;width:1.40px;height:30.70px;background:#6a8996"></div>
<div style="position:absolute;left:87.6px;top:1197.9px;width:426px;height:17.8px;border-radius:9px;background:#f6b397"></div>
<div class="t" style="left:102.80px;top:1199.53px;font-size:14.5px;line-height:14.5px;color:#231f20;">Limited stock available. Subject to change without notification.</div>
<div style="position:absolute;left:0;top:1222px;width:52.6px;height:58px;background:#f47b4e"></div>
<div style="position:absolute;left:57.8px;top:1222px;width:931.2px;height:58px;background:#231f20"></div>
<div class="t" style="left:0.00px;top:1233.22px;font-size:21px;line-height:21px;width:49px;text-align:center;font-weight:bold;color:#fff;">26</div>
<svg style="position:absolute;left:0;top:1200px" width="989" height="80" viewBox="0 1200 989 80"><g fill="#fff"><polygon points="86.8,1236.3 94.5,1236.3 94.5,1241.7 103.3,1241.7 103.3,1236.3 110.3,1236.3 110.3,1252.0 103.3,1252.0 103.3,1246.7 94.5,1246.7 94.5,1252.0 86.8,1252.0"/>
<polygon points="112.3,1236.3 118.8,1236.3 118.8,1252.0 112.3,1252.0"/>
<polygon points="120.8,1236.3 128.1,1236.3 128.1,1247.0 137.8,1247.0 135.8,1252.0 120.8,1252.0"/>
<polygon points="140.6,1236.3 147.9,1236.3 147.9,1247.0 157.6,1247.0 155.6,1252.0 140.6,1252.0"/>
<polygon points="159.2,1236.3 168.0,1236.3 173.2,1243.5 178.4,1236.3 187.3,1236.3 187.3,1252.0 180.5,1252.0 180.5,1243.0 175.5,1252.0 171.0,1252.0 166.0,1243.0 166.0,1252.0 159.2,1252.0"/>
<polygon points="196.0,1236.3 205.5,1236.3 213.6,1252.0 206.0,1252.0 204.8,1249.3 197.0,1249.3 195.5,1252.0 187.3,1252.0"/>
<polygon points="214.5,1236.3 222.5,1236.3 231.0,1245.0 231.0,1236.3 238.2,1236.3 238.2,1252.0 230.5,1252.0 222.0,1243.5 221.5,1252.0 214.5,1252.0"/></g><polygon points="200.8,1240.5 203.5,1246 198.3,1246" fill="#231f20"/><text x="239.5" y="1239.5" font-family="Liberation Sans" font-size="4" fill="#fff">TM</text></svg>
<div class="t" style="left:623.30px;top:1241.04px;font-size:13.3px;line-height:13.3px;transform:scaleX(0.965);transform-origin:left center;font-weight:bold;color:#fff;">shop.hillmangroup.ca</div>
<div style="position:absolute;left:767.6px;top:1242px;width:1.3px;height:12px;background:#ddd"></div>
<div class="t" style="left:778.70px;top:1239.18px;font-size:15.5px;line-height:15.5px;transform:scaleX(0.83);transform-origin:left center;font-weight:bold;color:#fff;">WASHERS</div>
</body></html>
